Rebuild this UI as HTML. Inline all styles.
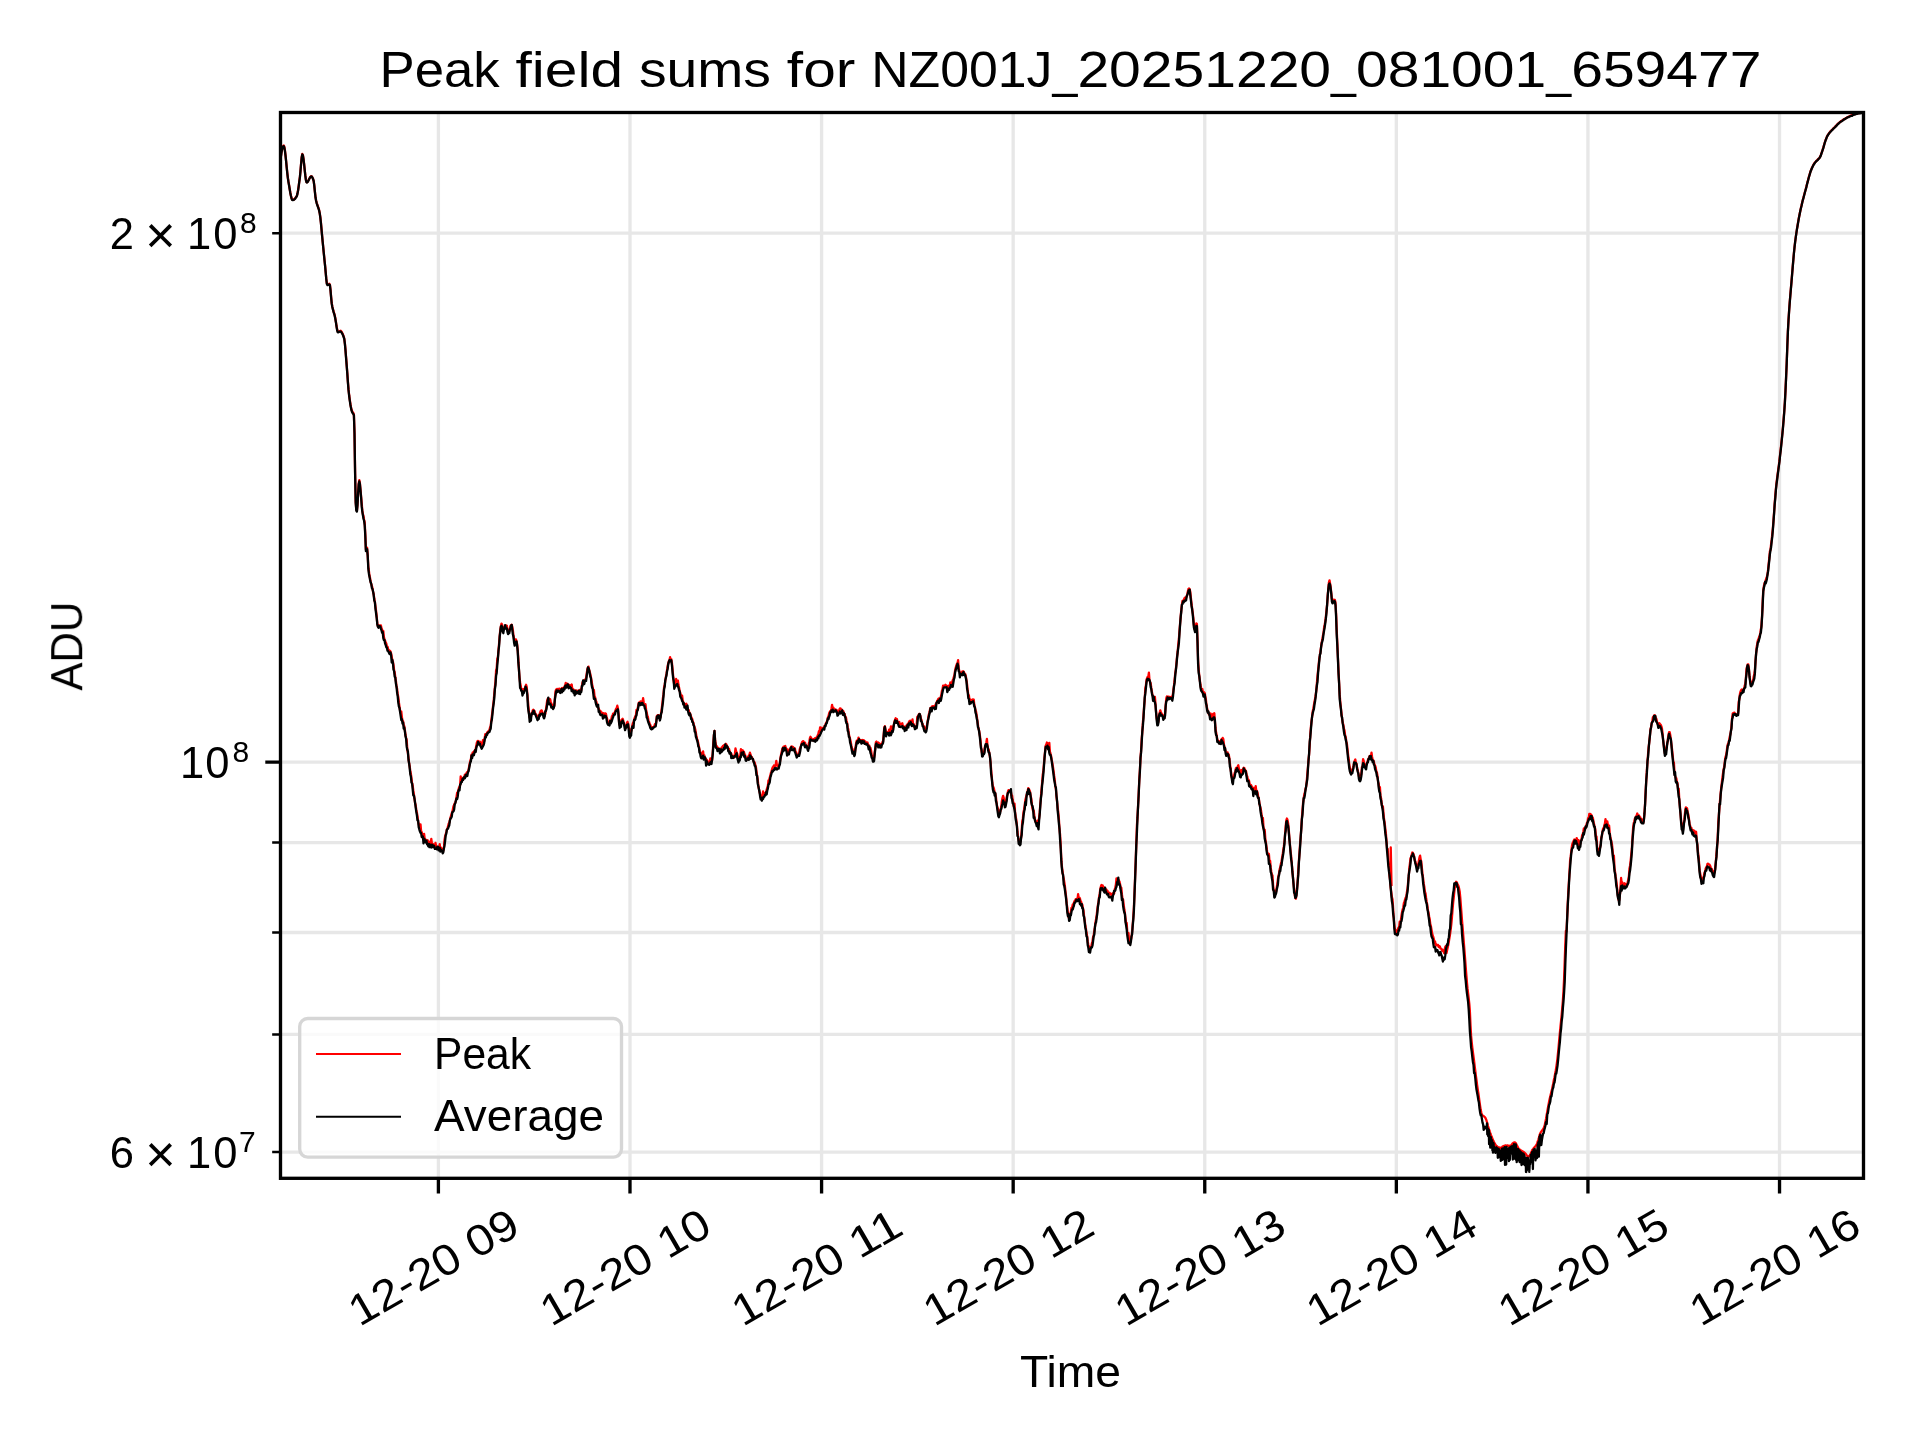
<!DOCTYPE html><html><head><meta charset="utf-8"><style>html,body{margin:0;padding:0;background:#fff;}svg{display:block;}text{font-family:"Liberation Sans",sans-serif;fill:#000;}#txt{will-change:transform;}</style></head><body>
<svg width="1920" height="1440" viewBox="0 0 1920 1440">
<rect x="0" y="0" width="1920" height="1440" fill="#fff"/>
<defs><clipPath id="ax"><rect x="280.5" y="112.5" width="1583.0" height="1065.8"/></clipPath></defs>
<path d="M438.40,112.5 V1178.3 M629.99,112.5 V1178.3 M821.58,112.5 V1178.3 M1013.17,112.5 V1178.3 M1204.76,112.5 V1178.3 M1396.35,112.5 V1178.3 M1587.94,112.5 V1178.3 M1779.53,112.5 V1178.3 M280.5,233.14 H1863.5 M280.5,762.20 H1863.5 M280.5,842.62 H1863.5 M280.5,932.52 H1863.5 M280.5,1034.44 H1863.5 M280.5,1152.10 H1863.5" stroke="#e7e7e7" stroke-width="3.33" fill="none"/>
<g clip-path="url(#ax)" fill="none" stroke-linejoin="round" stroke-width="2.3">
<path d="M280.7 158.0L281.3 153.3L281.9 149.9L282.5 147.6L283.1 146.1L283.7 145.4L284.3 146.6L284.9 150.2L285.5 155.2L286.1 161.0L286.7 167.2L287.3 173.0L287.9 178.0L288.5 181.8L289.1 185.1L289.7 189.1L290.3 192.5L290.9 195.6L291.5 198.0L292.1 199.5L292.7 199.8L293.3 199.6L293.9 199.5L294.5 199.0L295.1 198.3L295.7 197.6L296.3 196.7L296.9 195.6L297.5 193.4L298.1 190.0L298.7 185.9L299.3 181.4L299.9 176.9L300.5 170.8L301.1 163.6L301.7 157.3L302.3 154.0L302.9 155.1L303.5 158.8L304.1 163.8L304.7 169.6L305.3 175.3L305.9 179.7L306.5 182.1L307.1 182.2L307.7 181.6L308.3 180.5L308.9 179.4L309.5 178.3L310.1 177.1L310.7 176.5L311.3 176.1L311.9 176.6L312.5 177.6L313.1 179.0L313.7 181.0L314.3 185.5L314.9 191.6L315.5 197.2L316.1 200.5L316.7 202.8L317.3 204.7L317.9 206.2L318.5 208.0L319.1 210.1L319.7 212.9L320.3 217.0L320.9 222.2L321.5 228.9L322.1 235.6L322.7 242.0L323.3 247.9L323.9 253.9L324.5 259.9L325.1 265.7L325.7 272.3L326.3 278.9L326.9 283.5L327.5 284.5L328.1 284.3L328.7 284.1L329.3 283.8L329.9 284.6L330.5 289.6L331.1 296.7L331.7 303.0L332.3 306.5L332.9 309.0L333.5 311.1L334.1 313.1L334.7 315.2L335.3 318.1L335.9 321.7L336.5 325.8L337.1 329.1L337.7 331.4L338.3 331.7L338.9 331.6L339.5 331.3L340.1 331.0L340.7 330.7L341.3 331.5L341.9 332.3L342.5 333.5L343.1 334.8L343.7 336.6L344.3 338.8L344.9 343.3L345.5 349.9L346.1 357.5L346.7 365.1L347.3 373.0L347.9 381.5L348.5 389.1L349.1 394.5L349.7 399.2L350.3 403.2L350.9 406.8L351.5 409.4L352.1 411.2L352.7 412.1L353.3 413.0L353.9 414.5L354.5 432.6L355.1 471.8L355.7 501.6L356.3 509.4L356.9 510.8L357.5 504.2L358.1 492.9L358.7 483.4L359.3 480.2L359.9 483.0L360.5 489.5L361.1 496.6L361.7 503.0L362.3 510.2L362.9 514.2L363.5 516.1L364.1 519.7L364.7 522.3L365.3 534.1L365.9 549.6L366.5 548.1L367.1 547.8L367.7 555.0L368.3 566.3L368.9 571.0L369.5 575.8L370.1 578.1L370.7 582.0L371.3 584.0L371.9 586.1L372.5 588.4L373.1 592.0L373.7 594.1L374.3 598.8L374.9 602.1L375.5 606.8L376.1 611.1L376.7 616.6L377.3 623.2L377.9 626.3L378.5 625.2L379.1 625.7L379.7 626.3L380.3 625.4L380.9 625.5L381.5 628.2L382.1 629.4L382.7 632.3L383.3 631.1L383.9 637.0L384.5 639.4L385.1 640.7L385.7 642.2L386.3 643.4L386.9 646.6L387.5 646.6L388.1 648.9L388.7 650.2L389.3 651.2L389.9 650.7L390.5 651.7L391.1 653.3L391.7 656.7L392.3 660.0L392.9 661.4L393.5 664.9L394.1 670.2L394.7 672.4L395.3 677.3L395.9 681.0L396.5 685.9L397.1 688.8L397.7 693.9L398.3 697.1L398.9 702.5L399.5 706.7L400.1 710.7L400.7 712.7L401.3 711.6L401.9 717.3L402.5 721.0L403.1 721.3L403.7 724.9L404.3 726.2L404.9 730.1L405.5 735.1L406.1 737.8L406.7 740.1L407.3 749.3L407.9 753.2L408.5 757.9L409.1 763.3L409.7 765.9L410.3 771.3L410.9 773.8L411.5 778.3L412.1 783.3L412.7 785.6L413.3 790.4L413.9 794.4L414.5 798.6L415.1 803.0L415.7 805.3L416.3 809.9L416.9 812.6L417.5 816.1L418.1 821.2L418.7 824.1L419.3 826.6L419.9 827.6L420.5 824.3L421.1 831.0L421.7 832.0L422.3 835.3L422.9 835.9L423.5 836.2L424.1 833.8L424.7 839.0L425.3 839.2L425.9 840.0L426.5 841.2L427.1 842.0L427.7 840.3L428.3 842.2L428.9 843.1L429.5 841.8L430.1 844.0L430.7 843.8L431.3 838.8L431.9 843.5L432.5 844.0L433.1 844.2L433.7 845.9L434.3 845.9L434.9 846.7L435.5 842.9L436.1 846.2L436.7 846.5L437.3 847.1L437.9 847.1L438.5 847.9L439.1 848.0L439.7 844.1L440.3 849.1L440.9 847.5L441.5 848.3L442.1 851.1L442.7 850.3L443.3 850.8L443.9 848.0L444.5 840.2L445.1 836.3L445.7 834.2L446.3 832.0L446.9 829.4L447.5 828.2L448.1 826.0L448.7 823.6L449.3 822.7L449.9 820.0L450.5 817.6L451.1 815.7L451.7 813.2L452.3 812.1L452.9 809.2L453.5 806.3L454.1 805.1L454.7 803.3L455.3 802.8L455.9 800.3L456.5 797.1L457.1 792.9L457.7 792.3L458.3 790.7L458.9 788.0L459.5 786.7L460.1 785.4L460.7 776.4L461.3 780.2L461.9 779.2L462.5 779.7L463.1 778.0L463.7 778.4L464.3 777.0L464.9 774.6L465.5 774.8L466.1 774.2L466.7 772.8L467.3 772.0L467.9 771.7L468.5 770.2L469.1 766.6L469.7 763.7L470.3 760.6L470.9 759.1L471.5 754.6L472.1 755.4L472.7 752.5L473.3 752.2L473.9 751.9L474.5 751.0L475.1 750.1L475.7 749.0L476.3 745.8L476.9 742.5L477.5 741.1L478.1 740.9L478.7 741.8L479.3 742.3L479.9 741.6L480.5 742.3L481.1 744.8L481.7 745.3L482.3 745.3L482.9 740.1L483.5 743.1L484.1 741.3L484.7 738.1L485.3 734.1L485.9 734.2L486.5 734.7L487.1 732.5L487.7 733.0L488.3 731.2L488.9 730.9L489.5 729.7L490.1 727.2L490.7 726.1L491.3 720.4L491.9 716.0L492.5 711.2L493.1 705.6L493.7 700.8L494.3 693.5L494.9 687.2L495.5 681.6L496.1 670.3L496.7 668.5L497.3 658.6L497.9 657.2L498.5 650.0L499.1 643.3L499.7 636.0L500.3 629.7L500.9 626.2L501.5 623.6L502.1 624.6L502.7 628.5L503.3 629.7L503.9 628.2L504.5 627.5L505.1 626.0L505.7 625.6L506.3 625.5L506.9 625.8L507.5 630.2L508.1 631.3L508.7 632.3L509.3 631.0L509.9 628.3L510.5 625.8L511.1 625.1L511.7 624.7L512.3 626.9L512.9 630.4L513.5 635.8L514.1 639.2L514.7 641.9L515.3 641.3L515.9 639.4L516.5 641.0L517.1 643.9L517.7 649.9L518.3 658.2L518.9 669.0L519.5 677.3L520.1 682.4L520.7 685.8L521.3 689.1L521.9 690.0L522.5 690.9L523.1 689.2L523.7 692.3L524.3 690.5L524.9 688.0L525.5 686.5L526.1 684.8L526.7 686.9L527.3 693.7L527.9 700.5L528.5 707.3L529.1 714.0L529.7 717.6L530.3 717.7L530.9 717.0L531.5 714.9L532.1 712.5L532.7 710.5L533.3 709.6L533.9 710.6L534.5 711.0L535.1 713.2L535.7 714.0L536.3 716.3L536.9 715.4L537.5 717.7L538.1 716.6L538.7 715.6L539.3 715.1L539.9 713.2L540.5 711.3L541.1 710.6L541.7 710.4L542.3 711.9L542.9 713.3L543.5 714.5L544.1 713.9L544.7 715.6L545.3 713.6L545.9 709.8L546.5 705.8L547.1 700.9L547.7 698.8L548.3 698.2L548.9 698.9L549.5 699.1L550.1 699.1L550.7 701.5L551.3 703.6L551.9 704.4L552.5 706.1L553.1 706.3L553.7 707.5L554.3 705.7L554.9 698.4L555.5 691.4L556.1 689.7L556.7 689.2L557.3 688.9L557.9 690.2L558.5 689.9L559.1 688.6L559.7 690.2L560.3 689.5L560.9 689.6L561.5 688.4L562.1 688.0L562.7 688.4L563.3 688.6L563.9 688.3L564.5 686.3L565.1 685.8L565.7 682.9L566.3 685.3L566.9 684.6L567.5 683.7L568.1 685.4L568.7 684.7L569.3 685.2L569.9 685.1L570.5 686.5L571.1 686.7L571.7 684.5L572.3 689.2L572.9 688.9L573.5 689.6L574.1 690.3L574.7 691.0L575.3 690.9L575.9 690.8L576.5 690.5L577.1 691.3L577.7 691.0L578.3 690.9L578.9 691.3L579.5 690.3L580.1 689.7L580.7 690.2L581.3 690.1L581.9 686.1L582.5 682.4L583.1 681.0L583.7 681.1L584.3 680.1L584.9 679.6L585.5 679.6L586.1 677.8L586.7 673.7L587.3 669.3L587.9 667.9L588.5 666.6L589.1 669.8L589.7 671.6L590.3 674.0L590.9 677.0L591.5 680.1L592.1 684.2L592.7 686.9L593.3 690.9L593.9 690.0L594.5 696.1L595.1 697.3L595.7 700.5L596.3 701.6L596.9 704.3L597.5 706.3L598.1 707.5L598.7 708.7L599.3 710.1L599.9 710.9L600.5 711.0L601.1 712.0L601.7 712.4L602.3 714.5L602.9 713.7L603.5 713.1L604.1 713.8L604.7 714.0L605.3 713.4L605.9 713.7L606.5 716.5L607.1 718.6L607.7 722.2L608.3 722.5L608.9 722.7L609.5 721.8L610.1 720.7L610.7 719.6L611.3 719.7L611.9 716.4L612.5 716.1L613.1 713.6L613.7 714.7L614.3 713.1L614.9 711.9L615.5 710.3L616.1 708.7L616.7 708.1L617.3 705.7L617.9 708.3L618.5 713.1L619.1 722.4L619.7 725.1L620.3 725.0L620.9 722.9L621.5 720.0L622.1 719.5L622.7 718.8L623.3 720.6L623.9 723.7L624.5 725.5L625.1 726.0L625.7 727.8L626.3 726.3L626.9 722.8L627.5 721.8L628.1 723.6L628.7 727.8L629.3 728.8L629.9 734.8L630.5 734.3L631.1 731.0L631.7 729.3L632.3 725.6L632.9 723.1L633.5 722.2L634.1 719.7L634.7 717.9L635.3 716.3L635.9 715.5L636.5 709.9L637.1 710.8L637.7 708.4L638.3 704.9L638.9 702.5L639.5 702.3L640.1 701.9L640.7 701.3L641.3 701.5L641.9 703.5L642.5 702.4L643.1 698.2L643.7 702.2L644.3 704.7L644.9 704.5L645.5 704.3L646.1 709.7L646.7 712.4L647.3 715.8L647.9 716.9L648.5 721.2L649.1 721.8L649.7 724.0L650.3 724.9L650.9 726.8L651.5 727.1L652.1 727.3L652.7 727.6L653.3 727.2L653.9 726.6L654.5 725.5L655.1 724.0L655.7 725.0L656.3 721.3L656.9 715.8L657.5 715.3L658.1 715.1L658.7 715.2L659.3 716.2L659.9 715.8L660.5 717.2L661.1 713.6L661.7 708.9L662.3 704.1L662.9 698.2L663.5 694.2L664.1 687.1L664.7 684.7L665.3 680.7L665.9 676.7L666.5 673.7L667.1 669.6L667.7 665.8L668.3 663.4L668.9 661.0L669.5 660.1L670.1 657.2L670.7 660.0L671.3 659.2L671.9 662.6L672.5 668.5L673.1 675.4L673.7 681.3L674.3 684.7L674.9 684.5L675.5 684.5L676.1 679.0L676.7 681.3L677.3 680.5L677.9 680.7L678.5 685.1L679.1 687.8L679.7 691.1L680.3 692.8L680.9 696.1L681.5 698.4L682.1 695.7L682.7 700.4L683.3 702.0L683.9 703.2L684.5 703.8L685.1 705.0L685.7 704.4L686.3 703.6L686.9 707.3L687.5 707.8L688.1 709.9L688.7 710.1L689.3 712.7L689.9 713.2L690.5 714.4L691.1 716.9L691.7 717.9L692.3 719.3L692.9 721.7L693.5 723.0L694.1 725.9L694.7 727.4L695.3 729.5L695.9 733.0L696.5 736.6L697.1 739.3L697.7 740.4L698.3 743.4L698.9 746.6L699.5 749.3L700.1 752.1L700.7 752.5L701.3 754.4L701.9 754.7L702.5 755.1L703.1 751.4L703.7 756.7L704.3 755.3L704.9 757.7L705.5 758.3L706.1 759.4L706.7 759.7L707.3 760.6L707.9 763.2L708.5 762.5L709.1 762.2L709.7 762.5L710.3 758.4L710.9 761.6L711.5 759.4L712.1 760.1L712.7 753.0L713.3 742.9L713.9 735.3L714.5 730.8L715.1 739.7L715.7 743.6L716.3 746.7L716.9 746.2L717.5 748.3L718.1 747.6L718.7 749.0L719.3 748.7L719.9 749.7L720.5 749.0L721.1 748.7L721.7 747.5L722.3 747.1L722.9 746.0L723.5 747.1L724.1 745.1L724.7 745.8L725.3 744.6L725.9 743.8L726.5 744.7L727.1 746.2L727.7 746.9L728.3 748.9L728.9 748.6L729.5 750.6L730.1 752.6L730.7 753.9L731.3 753.6L731.9 756.0L732.5 756.4L733.1 756.0L733.7 757.8L734.3 757.1L734.9 753.9L735.5 748.5L736.1 751.3L736.7 752.6L737.3 754.0L737.9 756.6L738.5 757.9L739.1 757.7L739.7 756.8L740.3 755.7L740.9 749.2L741.5 753.2L742.1 751.7L742.7 750.2L743.3 751.3L743.9 751.9L744.5 754.0L745.1 754.9L745.7 757.9L746.3 757.8L746.9 759.7L747.5 758.1L748.1 757.1L748.7 755.6L749.3 755.3L749.9 752.7L750.5 754.3L751.1 756.6L751.7 757.0L752.3 758.5L752.9 758.9L753.5 761.2L754.1 762.4L754.7 762.5L755.3 765.2L755.9 766.9L756.5 771.4L757.1 776.0L757.7 779.3L758.3 785.2L758.9 788.8L759.5 791.6L760.1 794.0L760.7 796.9L761.3 797.3L761.9 797.8L762.5 795.4L763.1 791.5L763.7 794.4L764.3 794.0L764.9 793.2L765.5 792.9L766.1 792.1L766.7 789.5L767.3 787.6L767.9 785.7L768.5 780.3L769.1 780.2L769.7 777.9L770.3 775.5L770.9 772.9L771.5 771.3L772.1 769.1L772.7 767.3L773.3 767.0L773.9 765.4L774.5 767.5L775.1 766.0L775.7 765.1L776.3 760.9L776.9 765.5L777.5 765.9L778.1 766.2L778.7 765.7L779.3 764.6L779.9 762.3L780.5 757.7L781.1 754.5L781.7 751.7L782.3 748.9L782.9 747.9L783.5 746.7L784.1 747.8L784.7 746.3L785.3 746.0L785.9 748.5L786.5 748.7L787.1 749.7L787.7 752.9L788.3 754.1L788.9 752.5L789.5 749.1L790.1 749.0L790.7 747.5L791.3 746.5L791.9 746.6L792.5 746.7L793.1 747.0L793.7 748.2L794.3 748.1L794.9 748.5L795.5 751.7L796.1 752.2L796.7 754.0L797.3 754.7L797.9 754.6L798.5 755.1L799.1 753.7L799.7 749.3L800.3 748.0L800.9 746.0L801.5 743.6L802.1 742.1L802.7 741.4L803.3 741.2L803.9 742.0L804.5 742.7L805.1 742.7L805.7 745.2L806.3 745.7L806.9 746.8L807.5 747.2L808.1 748.0L808.7 744.1L809.3 741.8L809.9 738.3L810.5 736.8L811.1 737.8L811.7 739.0L812.3 740.2L812.9 740.4L813.5 739.1L814.1 740.2L814.7 738.6L815.3 737.9L815.9 738.6L816.5 737.8L817.1 737.2L817.7 735.4L818.3 734.3L818.9 731.2L819.5 732.4L820.1 727.4L820.7 727.3L821.3 730.9L821.9 729.5L822.5 728.3L823.1 727.9L823.7 727.6L824.3 726.6L824.9 725.5L825.5 724.5L826.1 722.8L826.7 722.4L827.3 720.0L827.9 717.3L828.5 716.3L829.1 713.5L829.7 712.0L830.3 711.0L830.9 710.7L831.5 708.5L832.1 704.8L832.7 709.6L833.3 707.5L833.9 709.1L834.5 709.1L835.1 709.5L835.7 709.5L836.3 711.2L836.9 710.3L837.5 712.0L838.1 713.5L838.7 713.3L839.3 709.9L839.9 708.3L840.5 708.3L841.1 709.5L841.7 709.4L842.3 710.6L842.9 711.3L843.5 711.4L844.1 714.0L844.7 713.9L845.3 716.9L845.9 717.2L846.5 720.4L847.1 723.0L847.7 727.2L848.3 729.4L848.9 734.3L849.5 736.9L850.1 739.0L850.7 741.8L851.3 745.3L851.9 748.2L852.5 749.0L853.1 751.0L853.7 752.7L854.3 754.4L854.9 752.8L855.5 747.5L856.1 743.4L856.7 740.7L857.3 741.8L857.9 740.9L858.5 737.7L859.1 739.7L859.7 741.1L860.3 740.6L860.9 739.9L861.5 740.3L862.1 741.1L862.7 740.0L863.3 741.7L863.9 740.2L864.5 742.4L865.1 741.3L865.7 741.9L866.3 743.4L866.9 742.7L867.5 742.5L868.1 745.0L868.7 745.5L869.3 745.7L869.9 748.9L870.5 748.0L871.1 750.6L871.7 755.0L872.3 757.2L872.9 759.0L873.5 760.2L874.1 757.3L874.7 752.2L875.3 747.8L875.9 742.2L876.5 741.5L877.1 743.6L877.7 743.1L878.3 742.5L878.9 743.1L879.5 745.1L880.1 743.9L880.7 744.7L881.3 745.0L881.9 744.4L882.5 741.9L883.1 741.6L883.7 734.4L884.3 727.2L884.9 726.3L885.5 729.4L886.1 733.7L886.7 732.9L887.3 732.1L887.9 732.9L888.5 733.0L889.1 729.7L889.7 731.3L890.3 731.1L890.9 726.5L891.5 731.6L892.1 727.0L892.7 728.7L893.3 726.7L893.9 724.8L894.5 721.5L895.1 719.7L895.7 718.3L896.3 720.5L896.9 719.1L897.5 721.8L898.1 722.4L898.7 723.0L899.3 722.0L899.9 724.1L900.5 724.0L901.1 724.6L901.7 724.6L902.3 723.2L902.9 726.8L903.5 726.0L904.1 727.8L904.7 728.4L905.3 727.0L905.9 726.7L906.5 725.4L907.1 726.2L907.7 723.8L908.3 723.8L908.9 722.0L909.5 721.0L910.1 720.7L910.7 720.8L911.3 722.4L911.9 721.9L912.5 719.4L913.1 724.6L913.7 724.1L914.3 726.9L914.9 726.2L915.5 726.8L916.1 727.6L916.7 725.0L917.3 716.8L917.9 716.6L918.5 715.3L919.1 714.0L919.7 714.1L920.3 715.7L920.9 718.8L921.5 719.9L922.1 723.9L922.7 723.9L923.3 726.5L923.9 726.1L924.5 728.4L925.1 728.5L925.7 729.9L926.3 728.4L926.9 725.8L927.5 721.8L928.1 718.9L928.7 715.0L929.3 712.7L929.9 710.0L930.5 707.8L931.1 707.8L931.7 707.1L932.3 706.2L932.9 706.8L933.5 706.2L934.1 706.2L934.7 705.9L935.3 705.9L935.9 703.9L936.5 703.6L937.1 701.0L937.7 700.5L938.3 698.9L938.9 698.4L939.5 699.1L940.1 698.5L940.7 696.9L941.3 695.1L941.9 691.0L942.5 689.5L943.1 685.7L943.7 685.6L944.3 686.1L944.9 685.6L945.5 684.8L946.1 686.4L946.7 685.7L947.3 686.2L947.9 687.6L948.5 687.2L949.1 685.5L949.7 686.6L950.3 682.5L950.9 683.9L951.5 684.3L952.1 682.5L952.7 680.2L953.3 678.9L953.9 676.8L954.5 674.8L955.1 670.4L955.7 667.7L956.3 665.6L956.9 663.8L957.5 663.2L958.1 660.1L958.7 668.8L959.3 670.7L959.9 673.3L960.5 672.8L961.1 674.0L961.7 673.0L962.3 671.3L962.9 671.3L963.5 671.4L964.1 672.3L964.7 674.3L965.3 674.1L965.9 676.6L966.5 680.1L967.1 684.7L967.7 691.0L968.3 694.8L968.9 695.4L969.5 700.0L970.1 699.3L970.7 701.5L971.3 701.4L971.9 700.5L972.5 699.4L973.1 701.7L973.7 699.5L974.3 704.8L974.9 707.1L975.5 710.2L976.1 711.9L976.7 715.7L977.3 719.9L977.9 724.5L978.5 728.9L979.1 730.4L979.7 733.9L980.3 738.3L980.9 744.9L981.5 750.6L982.1 753.5L982.7 755.3L983.3 753.5L983.9 753.3L984.5 749.3L985.1 746.5L985.7 744.9L986.3 742.7L986.9 738.9L987.5 745.9L988.1 748.4L988.7 749.6L989.3 753.2L989.9 756.4L990.5 761.8L991.1 768.9L991.7 776.2L992.3 782.8L992.9 786.6L993.5 787.3L994.1 789.4L994.7 793.0L995.3 793.4L995.9 796.7L996.5 802.2L997.1 806.2L997.7 808.0L998.3 812.5L998.9 814.3L999.5 814.0L1000.1 812.0L1000.7 809.6L1001.3 806.3L1001.9 800.9L1002.5 798.1L1003.1 795.8L1003.7 797.8L1004.3 802.4L1004.9 803.3L1005.5 803.5L1006.1 801.3L1006.7 797.3L1007.3 795.0L1007.9 791.9L1008.5 790.1L1009.1 790.8L1009.7 790.4L1010.3 790.7L1010.9 791.7L1011.5 795.5L1012.1 795.7L1012.7 800.1L1013.3 802.8L1013.9 806.7L1014.5 803.6L1015.1 812.5L1015.7 816.6L1016.3 819.7L1016.9 825.4L1017.5 832.0L1018.1 837.2L1018.7 839.8L1019.3 843.5L1019.9 842.8L1020.5 840.4L1021.1 837.9L1021.7 831.1L1022.3 821.2L1022.9 818.4L1023.5 812.0L1024.1 809.5L1024.7 805.3L1025.3 800.3L1025.9 797.8L1026.5 795.3L1027.1 793.4L1027.7 790.8L1028.3 788.1L1028.9 788.9L1029.5 790.4L1030.1 791.9L1030.7 796.4L1031.3 798.6L1031.9 804.7L1032.5 808.7L1033.1 810.9L1033.7 810.5L1034.3 815.6L1034.9 819.0L1035.5 821.3L1036.1 822.7L1036.7 822.7L1037.3 824.5L1037.9 820.5L1038.5 822.5L1039.1 817.9L1039.7 812.7L1040.3 804.3L1040.9 797.4L1041.5 789.5L1042.1 783.3L1042.7 775.0L1043.3 771.5L1043.9 764.4L1044.5 757.4L1045.1 751.1L1045.7 745.6L1046.3 744.6L1046.9 742.5L1047.5 743.9L1048.1 745.0L1048.7 746.3L1049.3 742.8L1049.9 751.7L1050.5 753.4L1051.1 755.9L1051.7 759.7L1052.3 762.9L1052.9 766.5L1053.5 770.5L1054.1 775.5L1054.7 779.4L1055.3 785.9L1055.9 789.2L1056.5 796.5L1057.1 802.1L1057.7 807.8L1058.3 812.5L1058.9 819.4L1059.5 828.8L1060.1 834.7L1060.7 844.9L1061.3 858.7L1061.9 866.5L1062.5 870.9L1063.1 876.0L1063.7 878.5L1064.3 882.2L1064.9 886.0L1065.5 891.7L1066.1 896.7L1066.7 903.7L1067.3 907.4L1067.9 913.2L1068.5 917.1L1069.1 918.3L1069.7 915.5L1070.3 913.6L1070.9 911.6L1071.5 907.8L1072.1 907.7L1072.7 904.7L1073.3 904.5L1073.9 903.0L1074.5 901.0L1075.1 900.8L1075.7 899.3L1076.3 900.2L1076.9 898.8L1077.5 899.6L1078.1 894.1L1078.7 898.0L1079.3 897.6L1079.9 898.2L1080.5 900.9L1081.1 901.7L1081.7 903.8L1082.3 904.7L1082.9 908.3L1083.5 910.3L1084.1 916.6L1084.7 919.9L1085.3 925.5L1085.9 928.6L1086.5 933.1L1087.1 935.9L1087.7 941.2L1088.3 944.8L1088.9 946.5L1089.5 949.1L1090.1 948.6L1090.7 948.2L1091.3 946.7L1091.9 943.3L1092.5 941.2L1093.1 936.9L1093.7 935.3L1094.3 931.0L1094.9 927.2L1095.5 922.1L1096.1 919.0L1096.7 915.1L1097.3 909.6L1097.9 905.2L1098.5 902.1L1099.1 897.0L1099.7 894.0L1100.3 889.0L1100.9 886.5L1101.5 885.0L1102.1 885.9L1102.7 885.5L1103.3 887.7L1103.9 887.2L1104.5 889.5L1105.1 888.2L1105.7 890.4L1106.3 889.5L1106.9 891.2L1107.5 890.7L1108.1 893.0L1108.7 893.6L1109.3 892.7L1109.9 893.2L1110.5 894.5L1111.1 893.8L1111.7 894.9L1112.3 894.7L1112.9 893.4L1113.5 893.1L1114.1 893.6L1114.7 889.5L1115.3 887.5L1115.9 884.6L1116.5 878.3L1117.1 882.0L1117.7 879.7L1118.3 879.7L1118.9 880.5L1119.5 881.5L1120.1 884.2L1120.7 888.0L1121.3 887.7L1121.9 894.2L1122.5 899.2L1123.1 899.6L1123.7 904.8L1124.3 909.3L1124.9 913.1L1125.5 918.5L1126.1 923.0L1126.7 923.0L1127.3 932.6L1127.9 935.0L1128.5 933.1L1129.1 941.7L1129.7 943.7L1130.3 941.1L1130.9 940.0L1131.5 936.8L1132.1 931.8L1132.7 924.5L1133.3 917.0L1133.9 907.3L1134.5 893.7L1135.1 876.8L1135.7 861.6L1136.3 843.3L1136.9 825.6L1137.5 817.2L1138.1 805.0L1138.7 793.0L1139.3 779.6L1139.9 770.0L1140.5 758.3L1141.1 750.0L1141.7 738.9L1142.3 732.1L1142.9 722.3L1143.5 715.7L1144.1 706.7L1144.7 700.3L1145.3 688.2L1145.9 685.5L1146.5 679.8L1147.1 678.0L1147.7 676.9L1148.3 676.7L1148.9 672.6L1149.5 680.3L1150.1 681.9L1150.7 683.3L1151.3 688.0L1151.9 691.7L1152.5 695.1L1153.1 696.4L1153.7 697.7L1154.3 700.1L1154.9 696.8L1155.5 704.0L1156.1 711.8L1156.7 718.4L1157.3 721.6L1157.9 722.9L1158.5 720.9L1159.1 715.7L1159.7 712.7L1160.3 710.3L1160.9 712.5L1161.5 713.2L1162.1 714.3L1162.7 715.3L1163.3 717.9L1163.9 716.9L1164.5 718.0L1165.1 712.6L1165.7 705.0L1166.3 698.4L1166.9 696.4L1167.5 697.2L1168.1 696.6L1168.7 696.6L1169.3 697.0L1169.9 697.0L1170.5 697.1L1171.1 697.7L1171.7 698.4L1172.3 696.4L1172.9 694.3L1173.5 689.0L1174.1 684.9L1174.7 678.7L1175.3 673.0L1175.9 669.1L1176.5 662.5L1177.1 656.1L1177.7 651.5L1178.3 644.2L1178.9 639.0L1179.5 631.1L1180.1 623.3L1180.7 616.6L1181.3 609.7L1181.9 605.0L1182.5 600.9L1183.1 600.7L1183.7 600.1L1184.3 598.6L1184.9 597.6L1185.5 598.3L1186.1 597.4L1186.7 596.4L1187.3 594.3L1187.9 591.3L1188.5 588.9L1189.1 588.4L1189.7 589.2L1190.3 592.1L1190.9 597.8L1191.5 603.4L1192.1 608.2L1192.7 612.6L1193.3 617.7L1193.9 625.1L1194.5 628.9L1195.1 629.9L1195.7 626.6L1196.3 623.5L1196.9 624.0L1197.5 640.2L1198.1 660.2L1198.7 670.0L1199.3 675.7L1199.9 680.6L1200.5 685.1L1201.1 687.9L1201.7 690.5L1202.3 689.0L1202.9 691.9L1203.5 691.9L1204.1 692.4L1204.7 693.0L1205.3 696.4L1205.9 699.5L1206.5 705.3L1207.1 708.3L1207.7 711.0L1208.3 712.3L1208.9 714.5L1209.5 713.7L1210.1 715.7L1210.7 713.5L1211.3 716.2L1211.9 717.9L1212.5 716.0L1213.1 713.9L1213.7 714.2L1214.3 713.2L1214.9 721.3L1215.5 728.0L1216.1 732.6L1216.7 735.6L1217.3 739.3L1217.9 740.7L1218.5 742.1L1219.1 741.3L1219.7 743.3L1220.3 741.2L1220.9 741.4L1221.5 739.3L1222.1 739.8L1222.7 737.9L1223.3 739.1L1223.9 744.2L1224.5 746.9L1225.1 749.1L1225.7 751.6L1226.3 753.1L1226.9 753.6L1227.5 752.4L1228.1 754.6L1228.7 754.5L1229.3 757.7L1229.9 762.8L1230.5 768.3L1231.1 772.1L1231.7 777.4L1232.3 778.7L1232.9 777.3L1233.5 777.5L1234.1 775.6L1234.7 772.9L1235.3 771.9L1235.9 768.2L1236.5 767.6L1237.1 767.6L1237.7 766.5L1238.3 765.3L1238.9 768.4L1239.5 770.6L1240.1 773.7L1240.7 774.3L1241.3 770.2L1241.9 771.8L1242.5 769.6L1243.1 769.2L1243.7 767.7L1244.3 768.0L1244.9 769.6L1245.5 770.6L1246.1 771.3L1246.7 775.6L1247.3 776.5L1247.9 780.2L1248.5 779.6L1249.1 781.0L1249.7 784.4L1250.3 785.3L1250.9 784.9L1251.5 786.0L1252.1 787.2L1252.7 787.6L1253.3 789.2L1253.9 788.0L1254.5 788.1L1255.1 790.1L1255.7 786.2L1256.3 791.3L1256.9 790.7L1257.5 792.5L1258.1 796.1L1258.7 797.6L1259.3 802.1L1259.9 805.8L1260.5 807.8L1261.1 811.0L1261.7 815.8L1262.3 818.3L1262.9 817.9L1263.5 827.5L1264.1 830.0L1264.7 829.7L1265.3 838.6L1265.9 842.4L1266.5 846.8L1267.1 851.5L1267.7 853.7L1268.3 855.6L1268.9 853.9L1269.5 861.8L1270.1 860.7L1270.7 867.4L1271.3 871.7L1271.9 875.0L1272.5 875.5L1273.1 885.3L1273.7 890.3L1274.3 892.5L1274.9 891.1L1275.5 893.3L1276.1 892.0L1276.7 888.0L1277.3 883.8L1277.9 879.3L1278.5 875.6L1279.1 873.2L1279.7 869.0L1280.3 867.1L1280.9 863.8L1281.5 861.7L1282.1 857.6L1282.7 854.8L1283.3 849.6L1283.9 846.2L1284.5 841.3L1285.1 834.5L1285.7 826.1L1286.3 820.4L1286.9 818.5L1287.5 819.9L1288.1 823.1L1288.7 828.9L1289.3 836.9L1289.9 844.0L1290.5 850.8L1291.1 855.6L1291.7 862.6L1292.3 868.8L1292.9 876.7L1293.5 883.6L1294.1 888.5L1294.7 894.2L1295.3 898.0L1295.9 898.7L1296.5 894.4L1297.1 887.9L1297.7 880.6L1298.3 870.1L1298.9 861.1L1299.5 853.0L1300.1 843.6L1300.7 837.0L1301.3 827.9L1301.9 818.1L1302.5 810.1L1303.1 802.5L1303.7 798.5L1304.3 794.3L1304.9 792.4L1305.5 788.9L1306.1 787.0L1306.7 781.8L1307.3 774.6L1307.9 767.5L1308.5 760.1L1309.1 754.3L1309.7 745.1L1310.3 734.6L1310.9 727.0L1311.5 721.2L1312.1 716.9L1312.7 711.5L1313.3 708.7L1313.9 705.1L1314.5 701.6L1315.1 698.8L1315.7 694.8L1316.3 690.7L1316.9 683.2L1317.5 676.2L1318.1 670.4L1318.7 664.3L1319.3 658.4L1319.9 655.2L1320.5 651.0L1321.1 647.0L1321.7 642.2L1322.3 639.8L1322.9 635.7L1323.5 633.1L1324.1 627.6L1324.7 624.7L1325.3 621.1L1325.9 616.6L1326.5 610.4L1327.1 604.8L1327.7 595.4L1328.3 588.9L1328.9 582.6L1329.5 580.3L1330.1 583.6L1330.7 587.3L1331.3 593.3L1331.9 598.6L1332.5 601.2L1333.1 600.7L1333.7 599.6L1334.3 599.8L1334.9 599.9L1335.5 602.5L1336.1 613.5L1336.7 629.9L1337.3 642.9L1337.9 657.3L1338.5 670.6L1339.1 682.8L1339.7 694.4L1340.3 702.1L1340.9 707.9L1341.5 713.4L1342.1 718.7L1342.7 722.7L1343.3 724.5L1343.9 728.6L1344.5 730.4L1345.1 735.2L1345.7 737.0L1346.3 741.5L1346.9 743.8L1347.5 749.2L1348.1 755.1L1348.7 758.9L1349.3 764.8L1349.9 768.0L1350.5 772.6L1351.1 770.4L1351.7 773.4L1352.3 769.9L1352.9 768.0L1353.5 765.8L1354.1 762.8L1354.7 760.7L1355.3 759.5L1355.9 762.9L1356.5 763.5L1357.1 767.8L1357.7 770.1L1358.3 772.9L1358.9 776.1L1359.5 777.2L1360.1 778.0L1360.7 776.3L1361.3 774.0L1361.9 767.1L1362.5 766.8L1363.1 759.2L1363.7 760.9L1364.3 764.3L1364.9 765.4L1365.5 767.0L1366.1 765.7L1366.7 763.7L1367.3 762.7L1367.9 759.9L1368.5 758.7L1369.1 757.4L1369.7 755.9L1370.3 756.3L1370.9 756.9L1371.5 752.7L1372.1 756.9L1372.7 760.0L1373.3 760.3L1373.9 761.8L1374.5 764.7L1375.1 765.5L1375.7 767.3L1376.3 771.1L1376.9 772.5L1377.5 776.0L1378.1 782.0L1378.7 783.7L1379.3 788.9L1379.9 787.2L1380.5 795.7L1381.1 798.2L1381.7 803.8L1382.3 807.4L1382.9 806.3L1383.5 813.4L1384.1 819.5L1384.7 823.0L1385.3 828.5L1385.9 833.7L1386.5 841.2L1387.1 848.9L1387.7 848.9L1388.3 860.6L1388.9 864.3L1389.5 875.7L1390.1 880.2L1390.7 887.9L1391.3 892.1L1391.9 897.1L1392.5 899.2L1393.1 908.0L1393.7 917.6L1394.3 924.3L1394.9 929.4L1395.5 933.7L1396.1 933.4L1396.7 930.8L1397.3 929.9L1397.9 929.4L1398.5 927.7L1399.1 927.6L1399.7 921.6L1400.3 923.6L1400.9 920.0L1401.5 915.7L1402.1 911.8L1402.7 909.3L1403.3 907.5L1403.9 903.0L1404.5 901.8L1405.1 899.4L1405.7 897.6L1406.3 897.0L1406.9 892.1L1407.5 889.0L1408.1 882.4L1408.7 876.7L1409.3 868.5L1409.9 863.6L1410.5 858.2L1411.1 857.1L1411.7 854.9L1412.3 852.5L1412.9 853.0L1413.5 854.0L1414.1 856.3L1414.7 859.6L1415.3 861.3L1415.9 863.6L1416.5 864.6L1417.1 867.2L1417.7 866.2L1418.3 865.5L1418.9 860.5L1419.5 857.4L1420.1 855.6L1420.7 859.7L1421.3 861.5L1421.9 868.0L1422.5 873.9L1423.1 878.1L1423.7 883.5L1424.3 886.6L1424.9 891.6L1425.5 893.3L1426.1 898.0L1426.7 901.9L1427.3 904.9L1427.9 910.3L1428.5 912.3L1429.1 916.4L1429.7 919.1L1430.3 924.2L1430.9 926.2L1431.5 929.8L1432.1 933.1L1432.7 935.6L1433.3 936.9L1433.9 939.4L1434.5 942.8L1435.1 941.6L1435.7 945.3L1436.3 944.2L1436.9 945.3L1437.5 945.1L1438.1 945.0L1438.7 947.0L1439.3 945.9L1439.9 946.6L1440.5 948.6L1441.1 948.7L1441.7 949.2L1442.3 950.9L1442.9 950.2L1443.5 951.2L1444.1 953.1L1444.7 949.3L1445.3 946.7L1445.9 946.0L1446.5 953.0L1447.1 950.3L1447.7 947.6L1448.3 944.7L1448.9 941.3L1449.5 937.6L1450.1 933.8L1450.7 929.3L1451.3 924.4L1451.9 918.0L1452.5 910.2L1453.1 903.1L1453.7 897.9L1454.3 891.9L1454.9 886.6L1455.5 883.2L1456.1 881.8L1456.7 882.2L1457.3 883.5L1457.9 884.7L1458.5 886.1L1459.1 888.5L1459.7 891.6L1460.3 897.8L1460.9 905.6L1461.5 913.7L1462.1 921.6L1462.7 928.5L1463.3 936.0L1463.9 943.7L1464.5 951.2L1465.1 958.8L1465.7 967.0L1466.3 974.5L1466.9 982.0L1467.5 988.4L1468.1 993.3L1468.7 998.3L1469.3 1003.9L1469.9 1011.7L1470.5 1025.6L1471.1 1035.9L1471.7 1042.0L1472.3 1047.5L1472.9 1052.2L1473.5 1056.7L1474.1 1061.2L1474.7 1066.5L1475.3 1071.0L1475.9 1075.8L1476.5 1080.2L1477.1 1084.9L1477.7 1089.1L1478.3 1093.0L1478.9 1097.2L1479.5 1101.7L1480.1 1105.9L1480.7 1109.8L1481.3 1112.6L1481.9 1114.6L1482.5 1115.4L1483.1 1115.8L1483.7 1116.2L1484.3 1116.7L1484.9 1117.1L1485.5 1118.1L1486.1 1119.4L1486.4 1120.1L1486.7 1121.4L1487.0 1122.1L1487.3 1123.1L1487.6 1124.3L1487.9 1125.8L1488.2 1126.6L1488.5 1127.5L1488.8 1128.9L1489.1 1129.8L1489.4 1130.2L1489.7 1131.4L1490.0 1132.1L1490.3 1133.1L1490.6 1133.8L1490.9 1134.9L1491.2 1135.9L1491.5 1136.3L1491.8 1137.0L1492.1 1137.8L1492.4 1138.9L1492.7 1139.1L1493.0 1140.2L1493.3 1140.5L1493.6 1141.2L1493.9 1141.9L1494.2 1142.7L1494.5 1142.9L1494.8 1143.5L1495.1 1144.1L1495.4 1144.7L1495.7 1144.9L1496.0 1145.8L1496.3 1146.2L1496.6 1145.9L1496.9 1146.6L1497.2 1146.7L1497.5 1147.1L1497.8 1147.0L1498.1 1147.5L1498.4 1147.3L1498.7 1147.3L1499.0 1147.6L1499.3 1147.9L1499.6 1147.6L1499.9 1147.7L1500.2 1147.9L1500.5 1147.8L1500.8 1147.8L1501.1 1147.7L1501.4 1147.8L1501.7 1147.5L1502.0 1147.6L1502.3 1146.8L1502.6 1147.0L1502.9 1146.9L1503.2 1146.3L1503.5 1146.5L1503.8 1145.9L1504.1 1145.9L1504.4 1145.9L1504.7 1145.8L1505.0 1145.5L1505.3 1145.4L1505.6 1145.5L1505.9 1145.4L1506.2 1145.8L1506.5 1145.9L1506.8 1145.7L1507.1 1145.4L1507.4 1145.7L1507.7 1145.5L1508.0 1145.6L1508.3 1146.1L1508.6 1146.1L1508.9 1145.6L1509.2 1146.1L1509.5 1145.7L1509.8 1146.3L1510.1 1146.1L1510.4 1146.2L1510.7 1145.7L1511.0 1145.6L1511.3 1145.4L1511.6 1144.9L1511.9 1144.3L1512.2 1144.5L1512.5 1143.7L1512.8 1143.1L1513.1 1143.2L1513.4 1142.9L1513.7 1142.6L1514.0 1142.3L1514.3 1142.4L1514.6 1142.3L1514.9 1142.3L1515.2 1142.6L1515.5 1143.0L1515.8 1143.1L1516.1 1143.9L1516.4 1144.1L1516.7 1145.0L1517.0 1145.5L1517.3 1146.1L1517.6 1147.1L1517.9 1147.1L1518.2 1148.2L1518.5 1148.5L1518.8 1148.6L1519.1 1149.3L1519.4 1149.1L1519.7 1149.8L1520.0 1149.7L1520.3 1150.1L1520.6 1150.2L1520.9 1150.7L1521.2 1150.6L1521.5 1150.8L1521.8 1151.2L1522.1 1151.0L1522.4 1151.3L1522.7 1151.4L1523.0 1151.7L1523.3 1152.2L1523.6 1151.9L1523.9 1152.4L1524.2 1152.5L1524.5 1152.7L1524.8 1152.9L1525.1 1153.4L1525.4 1153.6L1525.7 1153.8L1526.0 1154.4L1526.3 1154.5L1526.6 1155.1L1526.9 1155.6L1527.2 1156.0L1527.5 1155.8L1527.8 1156.2L1528.1 1156.4L1528.4 1156.8L1528.7 1156.6L1529.0 1156.6L1529.3 1156.0L1529.6 1155.7L1529.9 1155.2L1530.2 1154.9L1530.5 1154.1L1530.8 1153.6L1531.1 1152.6L1531.4 1152.3L1531.7 1151.5L1532.0 1150.7L1532.3 1149.9L1532.6 1149.6L1532.9 1149.4L1533.2 1148.8L1533.5 1148.8L1533.8 1147.9L1534.1 1147.9L1534.4 1147.4L1534.7 1147.1L1535.0 1146.6L1535.3 1146.6L1535.6 1146.0L1535.9 1145.4L1536.2 1145.3L1536.5 1144.9L1536.8 1144.1L1537.1 1143.8L1537.4 1142.7L1537.7 1141.7L1538.0 1140.6L1538.3 1139.8L1538.6 1138.8L1538.9 1137.8L1539.2 1136.9L1539.5 1135.5L1539.8 1134.7L1540.1 1133.6L1540.4 1133.5L1540.7 1132.4L1541.3 1131.6L1541.9 1130.8L1542.5 1130.0L1543.1 1129.1L1543.7 1128.3L1544.3 1126.7L1544.9 1124.2L1545.5 1121.4L1546.1 1118.5L1546.7 1114.8L1547.3 1111.5L1547.9 1108.0L1548.5 1104.9L1549.1 1101.5L1549.7 1098.7L1550.3 1096.2L1550.9 1093.8L1551.5 1091.3L1552.1 1089.0L1552.7 1085.9L1553.3 1083.2L1553.9 1079.8L1554.5 1077.2L1555.1 1074.0L1555.7 1070.8L1556.3 1067.1L1556.9 1062.9L1557.5 1058.1L1558.1 1052.2L1558.7 1045.9L1559.3 1038.9L1559.9 1032.5L1560.5 1026.4L1561.1 1020.6L1561.7 1014.7L1562.3 1007.5L1562.9 1000.3L1563.5 991.2L1564.1 978.8L1564.7 962.1L1565.3 945.0L1565.9 930.9L1566.5 931.7L1567.1 918.7L1567.7 904.6L1568.3 892.4L1568.9 881.9L1569.5 872.5L1570.1 860.6L1570.7 856.7L1571.3 851.2L1571.9 846.3L1572.5 843.4L1573.1 842.5L1573.7 840.7L1574.3 839.5L1574.9 840.6L1575.5 839.7L1576.1 840.6L1576.7 838.1L1577.3 839.8L1577.9 845.2L1578.5 840.1L1579.1 846.2L1579.7 844.5L1580.3 843.9L1580.9 840.5L1581.5 839.7L1582.1 835.4L1582.7 834.4L1583.3 831.7L1583.9 828.3L1584.5 830.0L1585.1 828.9L1585.7 826.4L1586.3 825.4L1586.9 822.9L1587.5 822.5L1588.1 818.2L1588.7 818.1L1589.3 813.8L1589.9 813.9L1590.5 814.2L1591.1 814.7L1591.7 815.4L1592.3 817.2L1592.9 818.0L1593.5 822.2L1594.1 824.1L1594.7 827.2L1595.3 829.2L1595.9 836.7L1596.5 836.5L1597.1 846.8L1597.7 849.5L1598.3 852.4L1598.9 851.2L1599.5 850.2L1600.1 847.2L1600.7 843.4L1601.3 837.5L1601.9 836.0L1602.5 831.7L1603.1 828.4L1603.7 829.1L1604.3 825.1L1604.9 823.7L1605.5 819.2L1606.1 822.9L1606.7 822.0L1607.3 821.4L1607.9 825.2L1608.5 827.7L1609.1 825.6L1609.7 832.7L1610.3 836.7L1610.9 839.6L1611.5 842.0L1612.1 845.3L1612.7 851.4L1613.3 857.5L1613.9 855.7L1614.5 868.1L1615.1 872.1L1615.7 877.0L1616.3 880.9L1616.9 886.0L1617.5 892.5L1618.1 897.4L1618.7 900.3L1619.3 900.2L1619.9 895.4L1620.5 887.1L1621.1 878.0L1621.7 883.6L1622.3 882.4L1622.9 883.6L1623.5 884.7L1624.1 885.4L1624.7 883.3L1625.3 884.3L1625.9 885.4L1626.5 884.3L1627.1 886.0L1627.7 882.2L1628.3 879.4L1628.9 876.3L1629.5 868.4L1630.1 865.5L1630.7 860.3L1631.3 854.0L1631.9 848.2L1632.5 837.6L1633.1 828.1L1633.7 823.4L1634.3 821.3L1634.9 818.6L1635.5 817.6L1636.1 816.4L1636.7 815.2L1637.3 813.5L1637.9 816.0L1638.5 816.7L1639.1 815.5L1639.7 817.8L1640.3 817.2L1640.9 820.5L1641.5 819.0L1642.1 820.6L1642.7 821.3L1643.3 822.7L1643.9 819.1L1644.5 812.7L1645.1 803.4L1645.7 790.3L1646.3 779.8L1646.9 769.6L1647.5 761.6L1648.1 753.5L1648.7 746.6L1649.3 742.1L1649.9 735.9L1650.5 729.2L1651.1 727.2L1651.7 722.9L1652.3 721.6L1652.9 717.2L1653.5 716.6L1654.1 715.5L1654.7 715.1L1655.3 716.4L1655.9 717.9L1656.5 719.3L1657.1 722.0L1657.7 723.8L1658.3 724.7L1658.9 725.1L1659.5 723.3L1660.1 725.1L1660.7 724.8L1661.3 726.2L1661.9 728.1L1662.5 732.8L1663.1 739.7L1663.7 744.5L1664.3 749.3L1664.9 753.7L1665.5 752.2L1666.1 750.1L1666.7 746.3L1667.3 743.6L1667.9 738.8L1668.5 734.7L1669.1 732.2L1669.7 732.1L1670.3 735.2L1670.9 739.8L1671.5 745.0L1672.1 749.7L1672.7 755.5L1673.3 761.9L1673.9 762.5L1674.5 773.1L1675.1 775.7L1675.7 777.9L1676.3 778.3L1676.9 781.6L1677.5 783.1L1678.1 788.9L1678.7 788.6L1679.3 800.3L1679.9 806.1L1680.5 813.4L1681.1 820.6L1681.7 824.6L1682.3 828.2L1682.9 830.9L1683.5 823.6L1684.1 822.5L1684.7 815.6L1685.3 810.0L1685.9 807.3L1686.5 808.7L1687.1 808.3L1687.7 812.6L1688.3 814.4L1688.9 818.4L1689.5 823.2L1690.1 825.6L1690.7 828.7L1691.3 827.8L1691.9 830.4L1692.5 830.3L1693.1 830.2L1693.7 831.8L1694.3 830.7L1694.9 833.3L1695.5 833.1L1696.1 831.8L1696.7 840.2L1697.3 844.4L1697.9 851.3L1698.5 856.2L1699.1 863.2L1699.7 870.7L1700.3 874.0L1700.9 877.6L1701.5 880.9L1702.1 879.9L1702.7 878.3L1703.3 877.8L1703.9 875.8L1704.5 872.6L1705.1 871.7L1705.7 868.4L1706.3 867.2L1706.9 866.3L1707.5 863.9L1708.1 863.7L1708.7 864.4L1709.3 864.4L1709.9 865.3L1710.5 866.7L1711.1 869.3L1711.7 868.8L1712.3 870.7L1712.9 872.6L1713.5 871.5L1714.1 873.1L1714.7 872.4L1715.3 866.4L1715.9 860.9L1716.5 853.6L1717.1 846.6L1717.7 837.8L1718.3 822.7L1718.9 814.7L1719.5 806.8L1720.1 799.6L1720.7 792.8L1721.3 787.1L1721.9 782.1L1722.5 777.1L1723.1 772.7L1723.7 768.7L1724.3 766.6L1724.9 760.8L1725.5 757.0L1726.1 755.2L1726.7 751.6L1727.3 746.7L1727.9 744.1L1728.5 742.9L1729.1 740.6L1729.7 737.0L1730.3 734.2L1730.9 731.5L1731.5 725.8L1732.1 718.3L1732.7 713.6L1733.3 712.9L1733.9 712.9L1734.5 712.7L1735.1 714.2L1735.7 714.5L1736.3 714.7L1736.9 714.5L1737.5 713.6L1738.1 713.4L1738.7 701.8L1739.3 699.5L1739.9 694.2L1740.5 691.6L1741.1 690.2L1741.7 689.5L1742.3 689.7L1742.9 689.5L1743.5 689.2L1744.1 688.9L1744.7 685.6L1745.3 684.0L1745.9 678.4L1746.5 669.1L1747.1 666.5L1747.7 664.4L1748.3 664.5L1748.9 669.0L1749.5 675.2L1750.1 680.2L1750.7 684.0L1751.3 681.8L1751.9 681.8L1752.5 681.8L1753.1 680.4L1753.7 676.6L1754.3 674.4L1754.9 670.1L1755.5 661.5L1756.1 653.6L1756.7 647.0L1757.3 643.6L1757.9 640.3L1758.5 639.1L1759.1 637.2L1759.7 635.7L1760.3 633.0L1760.9 629.3L1761.5 625.0L1762.1 615.0L1762.7 601.1L1763.3 589.6L1763.9 586.2L1764.5 583.3L1765.1 582.1L1765.7 580.3L1766.3 578.4L1766.9 576.6L1767.5 574.3L1768.1 569.7L1768.7 563.3L1769.3 558.0L1769.9 551.2L1770.5 549.9L1771.1 544.2L1771.7 539.9L1772.3 533.5L1772.9 528.1L1773.5 520.4L1774.1 512.1L1774.7 503.3L1775.3 495.3L1775.9 488.9L1776.5 482.8L1777.1 478.2L1777.7 473.7L1778.3 469.2L1778.9 465.1L1779.5 460.2L1780.1 454.7L1780.7 449.4L1781.3 443.6L1781.9 438.1L1782.5 432.0L1783.1 425.4L1783.7 418.2L1784.3 410.4L1784.9 401.5L1785.5 390.0L1786.1 376.7L1786.7 362.8L1787.3 346.5L1787.9 331.1L1788.5 320.0L1789.1 310.8L1789.7 302.6L1790.3 295.3L1790.9 288.3L1791.5 281.4L1792.1 274.2L1792.7 266.9L1793.3 259.9L1793.9 253.4L1794.5 247.4L1795.1 242.2L1795.7 237.5L1796.3 233.3L1796.9 229.3L1797.5 225.7L1798.1 222.2L1798.7 218.8L1799.3 215.8L1799.9 212.7L1800.5 209.9L1801.1 207.2L1801.7 204.5L1802.3 202.1L1802.9 199.8L1803.5 197.4L1804.1 195.3L1804.7 192.9L1805.3 190.8L1805.9 188.5L1806.5 186.1L1807.1 183.8L1807.7 181.4L1808.3 179.2L1808.9 176.9L1809.5 174.8L1810.1 172.7L1810.7 171.0L1811.3 169.4L1811.9 168.1L1812.5 166.7L1813.1 165.5L1813.7 164.3L1814.3 163.3L1814.9 162.6L1815.5 161.9L1816.1 161.2L1816.7 160.7L1817.3 160.0L1817.9 159.5L1818.5 158.7L1819.1 158.3L1819.7 157.4L1820.3 156.4L1820.9 154.9L1821.5 153.2L1822.1 151.5L1822.7 149.6L1823.3 147.7L1823.9 145.6L1824.5 143.5L1825.1 141.5L1825.7 139.7L1826.3 138.4L1826.9 136.7L1827.5 135.6L1828.1 134.6L1828.7 133.7L1829.3 132.9L1829.9 132.2L1830.5 131.1L1831.1 130.7L1831.7 130.2L1832.3 129.6L1832.9 129.0L1833.5 128.2L1834.1 127.8L1834.7 127.2L1835.3 126.5L1835.9 126.0L1836.5 125.3L1837.1 124.6L1837.7 124.0L1838.3 123.4L1838.9 122.9L1839.5 122.5L1840.1 122.0L1840.7 121.4L1841.3 121.1L1841.9 120.6L1842.5 120.2L1843.1 119.8L1843.7 119.4L1844.3 119.1L1844.9 118.6L1845.5 118.4L1846.1 118.1L1846.7 117.7L1847.3 117.3L1847.9 117.0L1848.5 116.7L1849.1 116.5L1849.7 116.1L1850.3 115.9L1850.9 115.7L1851.5 115.1L1852.1 115.1L1852.7 114.8L1853.3 114.7L1853.9 114.4L1854.5 114.1L1855.1 114.1L1855.7 113.9L1856.3 113.7L1856.9 113.6L1857.5 113.4L1858.1 113.2L1858.7 113.1L1859.3 112.9L1859.9 112.8L1860.5 112.6L1861.1 112.6L1861.7 112.5L1862.3 112.4L1862.9 112.4" stroke="#ff0000"/>
<path d="M1390.3,880 L1390.75,847.5 L1391.5,886" stroke="#ff0000"/>
<path d="M280.7 158.1L281.3 153.6L281.9 150.0L282.5 147.8L283.1 146.6L283.7 146.1L284.3 147.4L284.9 150.7L285.5 155.5L286.1 161.2L286.7 167.5L287.3 173.4L287.9 178.4L288.5 182.3L289.1 185.7L289.7 189.2L290.3 192.9L290.9 195.8L291.5 198.3L292.1 199.9L292.7 200.1L293.3 200.0L293.9 199.8L294.5 199.2L295.1 198.8L295.7 197.8L296.3 197.1L296.9 196.0L297.5 193.6L298.1 190.5L298.7 186.3L299.3 181.7L299.9 177.3L300.5 171.0L301.1 163.8L301.7 157.4L302.3 154.5L302.9 155.4L303.5 159.1L304.1 164.1L304.7 169.8L305.3 175.4L305.9 180.0L306.5 182.3L307.1 182.6L307.7 181.9L308.3 180.9L308.9 179.8L309.5 178.4L310.1 177.6L310.7 176.6L311.3 176.5L311.9 176.7L312.5 177.8L313.1 179.2L313.7 181.2L314.3 185.9L314.9 191.9L315.5 197.3L316.1 200.8L316.7 203.3L317.3 205.0L317.9 206.8L318.5 208.5L319.1 210.4L319.7 213.2L320.3 217.3L320.9 222.9L321.5 229.4L322.1 235.8L322.7 242.1L323.3 248.3L323.9 254.4L324.5 260.3L325.1 266.1L325.7 272.7L326.3 279.3L326.9 284.1L327.5 285.1L328.1 284.8L328.7 284.6L329.3 284.4L329.9 285.1L330.5 290.1L331.1 297.3L331.7 303.4L332.3 307.0L332.9 309.4L333.5 311.8L334.1 313.7L334.7 315.7L335.3 318.7L335.9 322.2L336.5 326.4L337.1 330.1L337.7 332.1L338.3 332.4L338.9 332.0L339.5 331.7L340.1 331.5L340.7 331.6L341.3 332.2L341.9 333.1L342.5 334.1L343.1 335.5L343.7 337.2L344.3 339.2L344.9 344.0L345.5 350.6L346.1 358.3L346.7 365.8L347.3 373.7L347.9 382.4L348.5 389.9L349.1 395.5L349.7 400.1L350.3 404.2L350.9 407.6L351.5 410.4L352.1 412.2L352.7 413.3L353.3 414.0L353.9 415.3L354.5 433.2L355.1 474.1L355.7 503.0L356.3 510.6L356.9 511.6L357.5 505.4L358.1 493.8L358.7 484.4L359.3 481.5L359.9 484.0L360.5 490.4L361.1 497.5L361.7 506.4L362.3 511.6L362.9 515.2L363.5 518.7L364.1 520.8L364.7 525.3L365.3 536.2L365.9 551.1L366.5 549.6L367.1 549.2L367.7 555.6L368.3 568.7L368.9 573.7L369.5 576.9L370.1 579.9L370.7 582.5L371.3 584.1L371.9 588.2L372.5 588.9L373.1 591.5L373.7 595.3L374.3 600.6L374.9 602.2L375.5 609.1L376.1 613.5L376.7 618.2L377.3 624.4L377.9 626.6L378.5 627.7L379.1 627.0L379.7 625.9L380.3 626.7L380.9 628.6L381.5 630.3L382.1 632.7L382.7 631.9L383.3 638.2L383.9 640.1L384.5 640.0L385.1 643.6L385.7 644.9L386.3 647.3L386.9 647.5L387.5 650.7L388.1 651.0L388.7 652.1L389.3 653.6L389.9 654.2L390.5 652.4L391.1 655.0L391.7 662.5L392.3 659.8L392.9 662.7L393.5 669.6L394.1 671.1L394.7 676.7L395.3 677.7L395.9 683.6L396.5 686.7L397.1 692.6L397.7 696.4L398.3 702.6L398.9 706.6L399.5 708.0L400.1 712.1L400.7 716.1L401.3 720.0L401.9 719.1L402.5 723.5L403.1 722.4L403.7 728.7L404.3 727.6L404.9 731.5L405.5 736.3L406.1 738.7L406.7 746.7L407.3 749.7L407.9 751.4L408.5 760.0L409.1 763.2L409.7 768.4L410.3 774.2L410.9 776.6L411.5 782.6L412.1 783.4L412.7 789.4L413.3 795.5L413.9 795.4L414.5 798.7L415.1 802.9L415.7 807.6L416.3 811.9L416.9 815.3L417.5 820.4L418.1 820.5L418.7 827.1L419.3 829.3L419.9 831.3L420.5 832.7L421.1 832.9L421.7 836.8L422.3 837.3L422.9 836.5L423.5 843.4L424.1 838.7L424.7 839.6L425.3 841.2L425.9 842.6L426.5 840.7L427.1 844.4L427.7 844.8L428.3 846.4L428.9 843.8L429.5 847.2L430.1 844.7L430.7 846.3L431.3 847.5L431.9 844.6L432.5 846.5L433.1 847.2L433.7 845.5L434.3 846.2L434.9 848.9L435.5 848.6L436.1 848.2L436.7 849.2L437.3 846.9L437.9 846.7L438.5 850.3L439.1 850.4L439.7 847.6L440.3 851.6L440.9 849.6L441.5 850.9L442.1 850.8L442.7 853.3L443.3 852.3L443.9 848.4L444.5 845.7L445.1 841.1L445.7 835.5L446.3 833.6L446.9 829.7L447.5 829.2L448.1 828.3L448.7 826.7L449.3 825.2L449.9 820.5L450.5 818.6L451.1 817.9L451.7 816.8L452.3 812.3L452.9 811.9L453.5 811.3L454.1 809.7L454.7 804.5L455.3 803.1L455.9 800.7L456.5 798.4L457.1 799.1L457.7 796.7L458.3 791.4L458.9 789.5L459.5 790.3L460.1 784.8L460.7 784.0L461.3 781.8L461.9 782.1L462.5 778.9L463.1 779.9L463.7 777.4L464.3 778.4L464.9 778.3L465.5 775.4L466.1 774.6L466.7 776.2L467.3 776.0L467.9 772.5L468.5 771.3L469.1 768.4L469.7 765.2L470.3 762.3L470.9 761.3L471.5 755.7L472.1 758.2L472.7 754.5L473.3 754.7L473.9 755.3L474.5 752.2L475.1 750.1L475.7 752.0L476.3 747.9L476.9 745.7L477.5 745.0L478.1 742.0L478.7 743.3L479.3 744.5L479.9 743.7L480.5 746.3L481.1 747.2L481.7 748.7L482.3 747.5L482.9 746.4L483.5 745.3L484.1 743.3L484.7 739.7L485.3 736.8L485.9 737.4L486.5 734.3L487.1 735.0L487.7 732.7L488.3 732.8L488.9 732.1L489.5 731.9L490.1 729.9L490.7 728.7L491.3 722.0L491.9 719.5L492.5 713.6L493.1 707.7L493.7 703.3L494.3 698.0L494.9 689.2L495.5 685.2L496.1 675.7L496.7 672.9L497.3 665.0L497.9 659.0L498.5 650.9L499.1 645.8L499.7 636.6L500.3 631.7L500.9 626.7L501.5 625.8L502.1 626.9L502.7 631.6L503.3 633.2L503.9 629.5L504.5 628.5L505.1 625.1L505.7 627.3L506.3 629.0L506.9 628.4L507.5 632.2L508.1 634.1L508.7 632.4L509.3 633.1L509.9 629.3L510.5 628.6L511.1 625.6L511.7 624.9L512.3 629.8L512.9 634.6L513.5 637.1L514.1 642.8L514.7 645.7L515.3 642.3L515.9 641.8L516.5 641.4L517.1 645.4L517.7 651.2L518.3 662.2L518.9 668.6L519.5 678.0L520.1 688.1L520.7 688.8L521.3 690.9L521.9 691.0L522.5 695.5L523.1 693.4L523.7 693.1L524.3 691.0L524.9 690.3L525.5 686.6L526.1 687.7L526.7 690.3L527.3 694.8L527.9 706.1L528.5 711.3L529.1 714.9L529.7 721.8L530.3 719.3L530.9 720.7L531.5 713.4L532.1 714.3L532.7 714.0L533.3 711.0L533.9 710.7L534.5 713.8L535.1 713.8L535.7 715.4L536.3 716.8L536.9 718.4L537.5 720.2L538.1 719.0L538.7 719.0L539.3 715.1L539.9 716.0L540.5 714.1L541.1 713.8L541.7 714.2L542.3 713.4L542.9 714.1L543.5 717.4L544.1 718.3L544.7 716.4L545.3 711.2L545.9 710.9L546.5 708.9L547.1 705.0L547.7 700.9L548.3 697.6L548.9 704.2L549.5 704.4L550.1 703.7L550.7 704.5L551.3 707.5L551.9 706.8L552.5 707.4L553.1 709.1L553.7 707.9L554.3 705.9L554.9 699.3L555.5 695.3L556.1 691.8L556.7 690.4L557.3 692.1L557.9 691.1L558.5 690.6L559.1 691.5L559.7 691.4L560.3 693.0L560.9 690.8L561.5 689.0L562.1 692.3L562.7 689.7L563.3 690.9L563.9 688.1L564.5 689.5L565.1 686.2L565.7 685.5L566.3 687.6L566.9 687.1L567.5 684.4L568.1 684.6L568.7 688.3L569.3 687.9L569.9 686.7L570.5 687.8L571.1 688.1L571.7 691.2L572.3 689.9L572.9 690.4L573.5 692.8L574.1 691.8L574.7 695.3L575.3 690.7L575.9 693.8L576.5 692.2L577.1 691.8L577.7 691.9L578.3 693.6L578.9 690.7L579.5 693.7L580.1 694.1L580.7 691.5L581.3 691.9L581.9 686.0L582.5 685.9L583.1 680.3L583.7 681.0L584.3 684.0L584.9 680.7L585.5 680.6L586.1 680.9L586.7 676.1L587.3 671.8L587.9 667.3L588.5 668.1L589.1 669.8L589.7 673.2L590.3 676.5L590.9 678.0L591.5 684.3L592.1 687.6L592.7 688.6L593.3 693.5L593.9 698.9L594.5 698.7L595.1 698.7L595.7 702.8L596.3 704.9L596.9 706.6L597.5 705.5L598.1 704.6L598.7 711.8L599.3 711.3L599.9 713.7L600.5 715.1L601.1 715.2L601.7 714.6L602.3 714.6L602.9 718.7L603.5 716.7L604.1 717.5L604.7 715.6L605.3 716.2L605.9 716.2L606.5 718.7L607.1 722.5L607.7 724.2L608.3 724.9L608.9 723.9L609.5 725.5L610.1 721.0L610.7 723.5L611.3 722.3L611.9 720.8L612.5 718.7L613.1 717.1L613.7 715.2L614.3 714.5L614.9 714.6L615.5 711.9L616.1 710.7L616.7 710.8L617.3 710.1L617.9 709.3L618.5 715.3L619.1 723.0L619.7 728.0L620.3 726.1L620.9 726.9L621.5 721.6L622.1 723.2L622.7 720.5L623.3 722.6L623.9 723.3L624.5 727.2L625.1 730.2L625.7 728.2L626.3 727.0L626.9 724.8L627.5 725.0L628.1 724.3L628.7 729.9L629.3 736.4L629.9 737.8L630.5 735.5L631.1 735.7L631.7 728.9L632.3 726.4L632.9 726.7L633.5 727.8L634.1 720.0L634.7 720.2L635.3 719.4L635.9 716.4L636.5 715.4L637.1 710.9L637.7 710.4L638.3 707.3L638.9 703.1L639.5 703.2L640.1 705.0L640.7 705.1L641.3 703.2L641.9 704.6L642.5 703.0L643.1 705.0L643.7 705.4L644.3 705.6L644.9 708.4L645.5 709.6L646.1 712.2L646.7 717.6L647.3 718.4L647.9 720.9L648.5 722.8L649.1 724.2L649.7 725.7L650.3 727.9L650.9 728.9L651.5 729.4L652.1 728.3L652.7 728.7L653.3 727.6L653.9 727.4L654.5 727.2L655.1 726.3L655.7 726.3L656.3 721.9L656.9 716.7L657.5 718.1L658.1 715.5L658.7 715.6L659.3 718.0L659.9 720.5L660.5 718.2L661.1 713.5L661.7 712.2L662.3 707.0L662.9 702.6L663.5 696.3L664.1 689.0L664.7 686.8L665.3 680.2L665.9 677.8L666.5 675.4L667.1 671.0L667.7 668.7L668.3 663.9L668.9 661.6L669.5 660.1L670.1 661.4L670.7 660.5L671.3 660.2L671.9 664.9L672.5 672.0L673.1 677.8L673.7 681.0L674.3 688.8L674.9 686.7L675.5 686.3L676.1 685.4L676.7 684.3L677.3 684.0L677.9 686.0L678.5 687.8L679.1 690.1L679.7 691.5L680.3 696.6L680.9 697.6L681.5 698.4L682.1 701.1L682.7 701.6L683.3 704.4L683.9 703.2L684.5 707.6L685.1 706.6L685.7 706.6L686.3 709.5L686.9 707.9L687.5 705.5L688.1 711.4L688.7 714.0L689.3 715.2L689.9 713.4L690.5 715.4L691.1 719.0L691.7 719.3L692.3 722.0L692.9 722.3L693.5 725.2L694.1 726.2L694.7 731.7L695.3 732.2L695.9 736.8L696.5 738.3L697.1 740.3L697.7 742.6L698.3 746.4L698.9 747.4L699.5 752.5L700.1 753.3L700.7 756.9L701.3 758.3L701.9 758.1L702.5 757.0L703.1 755.6L703.7 759.6L704.3 757.7L704.9 757.3L705.5 758.8L706.1 765.7L706.7 761.1L707.3 762.2L707.9 764.3L708.5 764.4L709.1 764.8L709.7 764.3L710.3 762.5L710.9 761.8L711.5 764.0L712.1 759.9L712.7 754.8L713.3 746.3L713.9 735.2L714.5 730.8L715.1 741.4L715.7 747.3L716.3 748.2L716.9 748.4L717.5 751.1L718.1 750.3L718.7 749.0L719.3 749.2L719.9 753.3L720.5 752.8L721.1 749.5L721.7 751.8L722.3 751.0L722.9 749.4L723.5 749.8L724.1 747.8L724.7 748.9L725.3 744.3L725.9 746.6L726.5 747.5L727.1 746.3L727.7 747.5L728.3 751.2L728.9 750.9L729.5 753.6L730.1 752.4L730.7 752.9L731.3 758.2L731.9 755.8L732.5 757.6L733.1 758.1L733.7 757.4L734.3 756.3L734.9 756.0L735.5 756.5L736.1 754.3L736.7 753.2L737.3 758.2L737.9 760.1L738.5 762.5L739.1 759.0L739.7 760.7L740.3 756.8L740.9 757.2L741.5 752.7L742.1 753.6L742.7 754.6L743.3 752.2L743.9 756.1L744.5 757.0L745.1 756.2L745.7 760.6L746.3 760.8L746.9 759.7L747.5 759.1L748.1 758.1L748.7 759.9L749.3 759.3L749.9 755.3L750.5 758.8L751.1 756.5L751.7 758.2L752.3 758.8L752.9 758.9L753.5 761.5L754.1 763.1L754.7 765.8L755.3 766.0L755.9 770.1L756.5 775.4L757.1 775.6L757.7 783.4L758.3 786.1L758.9 789.0L759.5 792.0L760.1 796.4L760.7 799.4L761.3 797.5L761.9 800.7L762.5 798.3L763.1 798.9L763.7 796.6L764.3 796.8L764.9 795.0L765.5 795.3L766.1 792.2L766.7 794.4L767.3 790.4L767.9 788.4L768.5 784.5L769.1 783.9L769.7 782.3L770.3 777.8L770.9 775.7L771.5 773.5L772.1 771.1L772.7 771.7L773.3 770.8L773.9 769.4L774.5 769.9L775.1 768.0L775.7 768.7L776.3 768.3L776.9 769.5L777.5 768.6L778.1 768.1L778.7 768.5L779.3 765.8L779.9 764.3L780.5 759.0L781.1 755.9L781.7 754.1L782.3 752.1L782.9 748.2L783.5 751.1L784.1 749.8L784.7 747.7L785.3 748.1L785.9 750.3L786.5 751.2L787.1 755.6L787.7 754.4L788.3 754.3L788.9 754.5L789.5 751.5L790.1 750.4L790.7 748.5L791.3 747.1L791.9 750.0L792.5 749.4L793.1 750.2L793.7 750.3L794.3 748.7L794.9 752.1L795.5 753.3L796.1 755.3L796.7 757.5L797.3 756.6L797.9 755.8L798.5 754.8L799.1 755.9L799.7 753.5L800.3 750.7L800.9 746.6L801.5 744.9L802.1 744.0L802.7 744.5L803.3 743.8L803.9 743.1L804.5 745.8L805.1 747.4L805.7 746.2L806.3 745.5L806.9 746.7L807.5 749.3L808.1 750.9L808.7 748.5L809.3 747.8L809.9 742.3L810.5 739.4L811.1 740.0L811.7 739.9L812.3 740.7L812.9 740.5L813.5 740.3L814.1 741.1L814.7 740.4L815.3 741.7L815.9 739.7L816.5 740.6L817.1 740.3L817.7 737.5L818.3 738.4L818.9 735.7L819.5 736.0L820.1 734.7L820.7 733.5L821.3 731.8L821.9 730.9L822.5 729.5L823.1 729.2L823.7 728.3L824.3 729.6L824.9 725.8L825.5 726.3L826.1 723.7L826.7 723.3L827.3 720.7L827.9 718.5L828.5 719.1L829.1 716.7L829.7 715.2L830.3 712.1L830.9 712.3L831.5 710.4L832.1 711.4L832.7 709.7L833.3 712.1L833.9 711.6L834.5 710.8L835.1 711.5L835.7 710.3L836.3 711.5L836.9 712.2L837.5 715.7L838.1 715.1L838.7 713.8L839.3 713.4L839.9 711.5L840.5 713.5L841.1 711.8L841.7 712.9L842.3 710.4L842.9 714.8L843.5 713.7L844.1 713.3L844.7 716.0L845.3 717.3L845.9 721.4L846.5 723.5L847.1 723.9L847.7 730.7L848.3 731.9L848.9 736.8L849.5 737.6L850.1 742.5L850.7 744.8L851.3 747.5L851.9 750.8L852.5 753.7L853.1 751.7L853.7 753.1L854.3 756.0L854.9 754.7L855.5 749.0L856.1 746.2L856.7 742.4L857.3 741.2L857.9 743.3L858.5 740.8L859.1 739.1L859.7 740.7L860.3 742.2L860.9 741.4L861.5 743.7L862.1 740.9L862.7 741.3L863.3 742.8L863.9 741.4L864.5 743.8L865.1 743.7L865.7 743.7L866.3 744.5L866.9 743.8L867.5 744.8L868.1 746.2L868.7 749.4L869.3 746.7L869.9 749.8L870.5 753.0L871.1 754.5L871.7 757.8L872.3 758.0L872.9 761.6L873.5 761.7L874.1 761.0L874.7 754.6L875.3 748.8L875.9 744.3L876.5 743.5L877.1 745.6L877.7 745.0L878.3 747.4L878.9 745.0L879.5 746.3L880.1 747.6L880.7 745.5L881.3 747.4L881.9 744.8L882.5 744.1L883.1 742.8L883.7 736.4L884.3 728.9L884.9 726.8L885.5 731.3L886.1 736.4L886.7 733.1L887.3 733.9L887.9 733.0L888.5 734.2L889.1 735.6L889.7 732.7L890.3 734.9L890.9 735.2L891.5 733.5L892.1 730.9L892.7 732.0L893.3 729.5L893.9 724.3L894.5 722.7L895.1 720.4L895.7 722.7L896.3 722.9L896.9 720.9L897.5 722.3L898.1 724.0L898.7 725.9L899.3 726.9L899.9 726.4L900.5 727.0L901.1 726.6L901.7 726.7L902.3 726.1L902.9 728.4L903.5 728.5L904.1 727.5L904.7 731.0L905.3 727.9L905.9 730.0L906.5 730.1L907.1 726.2L907.7 724.9L908.3 727.5L908.9 723.3L909.5 724.6L910.1 724.4L910.7 722.0L911.3 724.2L911.9 726.1L912.5 724.2L913.1 724.6L913.7 725.7L914.3 725.8L914.9 729.2L915.5 728.8L916.1 726.8L916.7 728.1L917.3 724.2L917.9 717.7L918.5 715.8L919.1 714.4L919.7 713.9L920.3 716.0L920.9 721.0L921.5 721.3L922.1 722.9L922.7 726.2L923.3 726.7L923.9 729.5L924.5 731.4L925.1 731.4L925.7 732.3L926.3 731.4L926.9 728.0L927.5 722.9L928.1 719.9L928.7 717.2L929.3 714.4L929.9 712.1L930.5 708.2L931.1 708.4L931.7 711.3L932.3 707.6L932.9 707.7L933.5 707.8L934.1 707.6L934.7 709.2L935.3 707.3L935.9 708.9L936.5 702.7L937.1 702.1L937.7 701.2L938.3 700.8L938.9 703.0L939.5 699.8L940.1 698.7L940.7 700.9L941.3 698.6L941.9 695.1L942.5 692.3L943.1 689.5L943.7 687.6L944.3 687.5L944.9 687.3L945.5 687.3L946.1 687.5L946.7 687.3L947.3 692.1L947.9 690.5L948.5 689.0L949.1 689.9L949.7 687.7L950.3 687.9L950.9 684.9L951.5 686.6L952.1 685.7L952.7 686.8L953.3 683.1L953.9 679.3L954.5 677.7L955.1 672.4L955.7 670.0L956.3 667.8L956.9 666.2L957.5 663.7L958.1 665.4L958.7 671.1L959.3 671.9L959.9 677.3L960.5 673.8L961.1 674.4L961.7 673.9L962.3 675.2L962.9 673.1L963.5 672.0L964.1 675.0L964.7 674.3L965.3 675.7L965.9 678.2L966.5 681.6L967.1 688.8L967.7 691.9L968.3 698.2L968.9 699.2L969.5 704.0L970.1 702.0L970.7 703.6L971.3 702.4L971.9 702.1L972.5 702.2L973.1 701.3L973.7 703.5L974.3 706.4L974.9 707.3L975.5 712.7L976.1 714.3L976.7 718.2L977.3 720.9L977.9 727.0L978.5 728.3L979.1 731.5L979.7 736.0L980.3 741.4L980.9 747.9L981.5 749.5L982.1 756.5L982.7 756.4L983.3 754.2L983.9 754.2L984.5 752.8L985.1 746.4L985.7 744.2L986.3 746.2L986.9 744.1L987.5 745.6L988.1 750.1L988.7 752.4L989.3 752.8L989.9 756.1L990.5 762.3L991.1 773.6L991.7 777.5L992.3 784.1L992.9 789.6L993.5 792.3L994.1 791.5L994.7 795.7L995.3 793.0L995.9 800.9L996.5 802.9L997.1 807.7L997.7 812.1L998.3 816.1L998.9 817.2L999.5 815.0L1000.1 813.5L1000.7 809.4L1001.3 808.9L1001.9 805.9L1002.5 803.7L1003.1 800.5L1003.7 802.2L1004.3 802.3L1004.9 807.3L1005.5 806.9L1006.1 803.7L1006.7 800.7L1007.3 795.6L1007.9 792.9L1008.5 792.9L1009.1 791.4L1009.7 791.2L1010.3 791.4L1010.9 789.2L1011.5 797.9L1012.1 799.3L1012.7 803.3L1013.3 803.9L1013.9 806.8L1014.5 809.5L1015.1 813.4L1015.7 819.3L1016.3 822.3L1016.9 826.0L1017.5 835.9L1018.1 836.8L1018.7 843.8L1019.3 844.2L1019.9 845.3L1020.5 844.6L1021.1 838.0L1021.7 834.8L1022.3 825.5L1022.9 822.6L1023.5 816.2L1024.1 811.8L1024.7 809.3L1025.3 802.1L1025.9 805.1L1026.5 797.3L1027.1 792.2L1027.7 794.3L1028.3 789.1L1028.9 789.8L1029.5 793.9L1030.1 792.8L1030.7 796.7L1031.3 802.5L1031.9 804.9L1032.5 806.1L1033.1 808.9L1033.7 817.9L1034.3 817.1L1034.9 820.2L1035.5 822.1L1036.1 823.6L1036.7 826.1L1037.3 823.2L1037.9 827.0L1038.5 829.3L1039.1 820.6L1039.7 814.5L1040.3 805.9L1040.9 798.3L1041.5 793.9L1042.1 785.3L1042.7 780.5L1043.3 774.3L1043.9 767.0L1044.5 758.7L1045.1 752.0L1045.7 746.9L1046.3 746.8L1046.9 747.6L1047.5 745.7L1048.1 749.4L1048.7 747.1L1049.3 753.0L1049.9 754.9L1050.5 754.8L1051.1 757.6L1051.7 760.8L1052.3 765.4L1052.9 769.8L1053.5 774.3L1054.1 779.4L1054.7 782.4L1055.3 786.1L1055.9 787.5L1056.5 795.8L1057.1 801.1L1057.7 811.2L1058.3 816.5L1058.9 823.6L1059.5 829.2L1060.1 840.2L1060.7 848.7L1061.3 861.2L1061.9 868.6L1062.5 873.3L1063.1 874.9L1063.7 884.3L1064.3 886.0L1064.9 889.8L1065.5 894.4L1066.1 898.9L1066.7 905.2L1067.3 912.3L1067.9 916.2L1068.5 913.9L1069.1 920.9L1069.7 920.3L1070.3 915.8L1070.9 915.4L1071.5 911.8L1072.1 909.3L1072.7 909.6L1073.3 907.4L1073.9 905.9L1074.5 902.6L1075.1 902.6L1075.7 901.5L1076.3 899.8L1076.9 900.0L1077.5 901.2L1078.1 901.0L1078.7 899.2L1079.3 899.3L1079.9 904.1L1080.5 903.9L1081.1 905.7L1081.7 904.0L1082.3 908.4L1082.9 908.2L1083.5 915.5L1084.1 917.0L1084.7 922.3L1085.3 927.5L1085.9 930.3L1086.5 936.4L1087.1 937.1L1087.7 945.0L1088.3 947.6L1088.9 952.0L1089.5 952.0L1090.1 952.6L1090.7 948.9L1091.3 947.1L1091.9 947.4L1092.5 945.5L1093.1 941.0L1093.7 936.3L1094.3 934.6L1094.9 927.7L1095.5 923.4L1096.1 922.2L1096.7 917.6L1097.3 913.6L1097.9 907.0L1098.5 903.5L1099.1 897.9L1099.7 897.5L1100.3 890.4L1100.9 888.1L1101.5 889.6L1102.1 888.1L1102.7 888.9L1103.3 890.6L1103.9 891.4L1104.5 892.6L1105.1 887.6L1105.7 891.4L1106.3 892.2L1106.9 894.3L1107.5 894.6L1108.1 893.9L1108.7 896.8L1109.3 897.4L1109.9 896.9L1110.5 897.4L1111.1 896.6L1111.7 897.8L1112.3 900.6L1112.9 895.8L1113.5 894.4L1114.1 890.8L1114.7 890.8L1115.3 890.6L1115.9 887.9L1116.5 886.8L1117.1 882.1L1117.7 881.9L1118.3 877.6L1118.9 884.6L1119.5 884.1L1120.1 886.0L1120.7 890.3L1121.3 893.4L1121.9 900.2L1122.5 898.8L1123.1 905.9L1123.7 909.7L1124.3 912.4L1124.9 914.0L1125.5 922.1L1126.1 925.3L1126.7 929.4L1127.3 935.5L1127.9 939.6L1128.5 943.2L1129.1 942.5L1129.7 943.5L1130.3 945.1L1130.9 941.9L1131.5 936.4L1132.1 934.5L1132.7 926.1L1133.3 919.6L1133.9 910.8L1134.5 894.5L1135.1 879.8L1135.7 862.7L1136.3 845.4L1136.9 833.2L1137.5 817.4L1138.1 806.3L1138.7 794.5L1139.3 780.7L1139.9 771.4L1140.5 757.9L1141.1 752.4L1141.7 742.4L1142.3 731.5L1142.9 725.7L1143.5 717.8L1144.1 707.7L1144.7 697.8L1145.3 693.7L1145.9 688.2L1146.5 682.5L1147.1 679.4L1147.7 678.7L1148.3 679.8L1148.9 679.2L1149.5 680.2L1150.1 682.2L1150.7 687.1L1151.3 689.3L1151.9 693.4L1152.5 696.1L1153.1 700.8L1153.7 696.6L1154.3 701.0L1154.9 702.3L1155.5 705.3L1156.1 713.1L1156.7 720.0L1157.3 725.4L1157.9 725.3L1158.5 722.2L1159.1 715.5L1159.7 713.5L1160.3 713.2L1160.9 715.6L1161.5 715.1L1162.1 715.3L1162.7 716.7L1163.3 719.8L1163.9 718.5L1164.5 718.4L1165.1 715.5L1165.7 705.9L1166.3 701.2L1166.9 700.6L1167.5 697.5L1168.1 698.0L1168.7 699.4L1169.3 697.9L1169.9 698.8L1170.5 698.0L1171.1 698.3L1171.7 699.0L1172.3 700.7L1172.9 697.3L1173.5 691.2L1174.1 685.7L1174.7 682.4L1175.3 674.6L1175.9 670.0L1176.5 664.5L1177.1 657.7L1177.7 652.2L1178.3 647.7L1178.9 643.2L1179.5 632.9L1180.1 624.7L1180.7 616.9L1181.3 611.5L1181.9 604.7L1182.5 604.0L1183.1 601.3L1183.7 602.4L1184.3 600.6L1184.9 601.2L1185.5 600.5L1186.1 600.4L1186.7 596.4L1187.3 594.9L1187.9 593.3L1188.5 591.0L1189.1 590.1L1189.7 589.8L1190.3 595.1L1190.9 600.3L1191.5 605.7L1192.1 609.3L1192.7 614.2L1193.3 620.7L1193.9 627.5L1194.5 629.9L1195.1 632.1L1195.7 629.9L1196.3 625.8L1196.9 626.0L1197.5 641.9L1198.1 664.0L1198.7 673.1L1199.3 676.4L1199.9 681.8L1200.5 687.7L1201.1 690.5L1201.7 691.4L1202.3 692.3L1202.9 693.5L1203.5 696.6L1204.1 695.3L1204.7 694.4L1205.3 698.7L1205.9 703.1L1206.5 705.3L1207.1 710.4L1207.7 712.5L1208.3 711.3L1208.9 713.6L1209.5 715.0L1210.1 719.3L1210.7 719.3L1211.3 718.7L1211.9 720.2L1212.5 719.7L1213.1 718.2L1213.7 717.5L1214.3 717.4L1214.9 719.9L1215.5 731.8L1216.1 735.1L1216.7 735.9L1217.3 742.0L1217.9 741.1L1218.5 742.1L1219.1 743.7L1219.7 743.0L1220.3 742.5L1220.9 744.1L1221.5 740.0L1222.1 741.0L1222.7 742.0L1223.3 743.9L1223.9 745.4L1224.5 750.0L1225.1 748.1L1225.7 753.9L1226.3 755.9L1226.9 754.5L1227.5 753.7L1228.1 754.3L1228.7 757.4L1229.3 758.8L1229.9 766.7L1230.5 768.7L1231.1 775.0L1231.7 777.8L1232.3 782.5L1232.9 784.2L1233.5 778.3L1234.1 778.4L1234.7 776.6L1235.3 773.1L1235.9 769.9L1236.5 771.6L1237.1 768.1L1237.7 769.9L1238.3 770.3L1238.9 772.1L1239.5 773.2L1240.1 776.9L1240.7 777.4L1241.3 774.7L1241.9 774.9L1242.5 774.3L1243.1 773.3L1243.7 768.5L1244.3 770.0L1244.9 770.3L1245.5 770.8L1246.1 773.4L1246.7 777.4L1247.3 781.2L1247.9 781.3L1248.5 781.2L1249.1 786.2L1249.7 786.7L1250.3 786.0L1250.9 787.3L1251.5 789.0L1252.1 789.7L1252.7 789.0L1253.3 796.0L1253.9 792.1L1254.5 793.2L1255.1 791.1L1255.7 793.8L1256.3 794.4L1256.9 791.4L1257.5 796.3L1258.1 798.0L1258.7 798.0L1259.3 803.9L1259.9 805.4L1260.5 811.2L1261.1 814.7L1261.7 817.7L1262.3 822.7L1262.9 826.1L1263.5 828.7L1264.1 831.7L1264.7 838.6L1265.3 841.4L1265.9 844.1L1266.5 849.9L1267.1 854.2L1267.7 855.1L1268.3 856.0L1268.9 863.8L1269.5 863.9L1270.1 865.4L1270.7 871.8L1271.3 873.7L1271.9 878.4L1272.5 881.6L1273.1 889.8L1273.7 890.4L1274.3 897.5L1274.9 897.0L1275.5 894.7L1276.1 893.4L1276.7 889.8L1277.3 887.2L1277.9 884.4L1278.5 877.0L1279.1 875.0L1279.7 871.0L1280.3 871.2L1280.9 866.1L1281.5 865.5L1282.1 860.7L1282.7 857.1L1283.3 853.5L1283.9 848.6L1284.5 843.5L1285.1 834.0L1285.7 831.0L1286.3 822.0L1286.9 821.0L1287.5 824.4L1288.1 825.9L1288.7 831.1L1289.3 838.6L1289.9 845.0L1290.5 852.1L1291.1 859.2L1291.7 862.8L1292.3 871.5L1292.9 876.8L1293.5 883.7L1294.1 892.7L1294.7 893.4L1295.3 897.8L1295.9 897.3L1296.5 895.3L1297.1 889.7L1297.7 881.5L1298.3 874.9L1298.9 862.8L1299.5 854.4L1300.1 846.9L1300.7 836.6L1301.3 829.1L1301.9 819.1L1302.5 814.5L1303.1 805.1L1303.7 798.2L1304.3 798.1L1304.9 794.7L1305.5 790.2L1306.1 786.6L1306.7 782.8L1307.3 779.3L1307.9 769.8L1308.5 760.9L1309.1 753.5L1309.7 742.0L1310.3 737.2L1310.9 729.7L1311.5 722.3L1312.1 716.5L1312.7 713.4L1313.3 711.0L1313.9 709.1L1314.5 704.5L1315.1 701.0L1315.7 696.7L1316.3 690.4L1316.9 685.5L1317.5 681.7L1318.1 672.6L1318.7 666.6L1319.3 660.6L1319.9 654.8L1320.5 653.3L1321.1 647.0L1321.7 643.4L1322.3 641.4L1322.9 639.0L1323.5 634.1L1324.1 630.6L1324.7 627.2L1325.3 623.0L1325.9 618.4L1326.5 612.3L1327.1 604.9L1327.7 596.7L1328.3 589.3L1328.9 584.4L1329.5 583.5L1330.1 584.8L1330.7 589.0L1331.3 594.0L1331.9 601.6L1332.5 603.4L1333.1 602.7L1333.7 601.9L1334.3 600.9L1334.9 601.6L1335.5 605.2L1336.1 616.8L1336.7 634.2L1337.3 645.5L1337.9 658.4L1338.5 673.2L1339.1 683.2L1339.7 699.0L1340.3 704.4L1340.9 708.9L1341.5 715.7L1342.1 717.7L1342.7 723.4L1343.3 726.6L1343.9 731.6L1344.5 735.1L1345.1 736.3L1345.7 739.6L1346.3 742.0L1346.9 747.6L1347.5 752.8L1348.1 758.9L1348.7 763.1L1349.3 768.3L1349.9 771.6L1350.5 773.0L1351.1 774.6L1351.7 773.4L1352.3 773.2L1352.9 770.3L1353.5 768.1L1354.1 762.4L1354.7 762.4L1355.3 763.3L1355.9 763.0L1356.5 764.6L1357.1 768.7L1357.7 771.6L1358.3 773.4L1358.9 778.8L1359.5 780.8L1360.1 781.2L1360.7 779.7L1361.3 776.4L1361.9 770.5L1362.5 766.4L1363.1 763.2L1363.7 763.7L1364.3 767.0L1364.9 766.8L1365.5 768.5L1366.1 769.4L1366.7 764.9L1367.3 762.6L1367.9 762.3L1368.5 758.8L1369.1 758.7L1369.7 756.2L1370.3 759.2L1370.9 756.1L1371.5 759.9L1372.1 759.7L1372.7 762.1L1373.3 760.8L1373.9 764.5L1374.5 765.5L1375.1 769.2L1375.7 770.8L1376.3 772.4L1376.9 776.1L1377.5 777.3L1378.1 781.4L1378.7 787.6L1379.3 791.7L1379.9 792.8L1380.5 798.5L1381.1 800.5L1381.7 804.7L1382.3 807.6L1382.9 811.7L1383.5 818.6L1384.1 821.3L1384.7 826.6L1385.3 833.2L1385.9 837.5L1386.5 842.9L1387.1 851.3L1387.7 858.3L1388.3 865.9L1388.9 871.2L1389.5 875.2L1390.1 881.9L1390.7 887.8L1391.3 895.1L1391.9 901.3L1392.5 904.8L1393.1 913.5L1393.7 917.8L1394.3 928.2L1394.9 933.9L1395.5 934.4L1396.1 933.9L1396.7 934.5L1397.3 935.4L1397.9 934.6L1398.5 930.3L1399.1 930.7L1399.7 926.9L1400.3 927.5L1400.9 921.7L1401.5 921.1L1402.1 917.5L1402.7 912.4L1403.3 910.8L1403.9 908.5L1404.5 905.3L1405.1 905.7L1405.7 900.3L1406.3 899.6L1406.9 895.0L1407.5 892.0L1408.1 885.3L1408.7 875.4L1409.3 871.4L1409.9 867.9L1410.5 863.3L1411.1 857.5L1411.7 855.8L1412.3 856.0L1412.9 853.5L1413.5 855.8L1414.1 856.9L1414.7 860.3L1415.3 863.1L1415.9 865.4L1416.5 868.6L1417.1 871.5L1417.7 868.8L1418.3 868.4L1418.9 864.2L1419.5 862.8L1420.1 860.9L1420.7 861.0L1421.3 866.1L1421.9 873.0L1422.5 875.7L1423.1 883.0L1423.7 887.4L1424.3 892.2L1424.9 895.7L1425.5 899.2L1426.1 902.0L1426.7 903.9L1427.3 908.4L1427.9 911.6L1428.5 915.8L1429.1 920.2L1429.7 925.7L1430.3 926.6L1430.9 932.6L1431.5 936.4L1432.1 937.8L1432.7 938.7L1433.3 943.6L1433.9 947.2L1434.5 947.3L1435.1 947.2L1435.7 951.5L1436.3 949.5L1436.9 950.9L1437.5 950.2L1438.1 952.6L1438.7 953.4L1439.3 955.4L1439.9 952.3L1440.5 951.9L1441.1 954.4L1441.7 955.7L1442.3 958.7L1442.9 961.5L1443.5 957.7L1444.1 959.6L1444.7 959.1L1445.3 955.2L1445.9 949.4L1446.5 947.0L1447.1 944.2L1447.7 945.0L1448.3 939.5L1448.9 937.2L1449.5 930.2L1450.1 928.7L1450.7 915.6L1451.3 913.4L1451.9 905.7L1452.5 898.4L1453.1 893.3L1453.7 890.1L1454.3 883.3L1454.9 884.6L1455.5 883.1L1456.1 882.9L1456.7 883.2L1457.3 887.0L1457.9 887.4L1458.5 892.8L1459.1 897.5L1459.7 906.2L1460.3 912.2L1460.9 924.3L1461.5 924.8L1462.1 934.9L1462.7 942.2L1463.3 947.4L1463.9 955.0L1464.5 963.2L1465.1 976.2L1465.7 980.7L1466.3 987.6L1466.9 992.9L1467.5 997.3L1468.1 1001.8L1468.7 1009.5L1469.3 1019.6L1469.9 1031.7L1470.5 1039.0L1471.1 1047.4L1471.7 1051.3L1472.3 1057.0L1472.9 1061.9L1473.5 1064.7L1474.1 1073.2L1474.7 1072.8L1475.3 1078.3L1475.9 1084.8L1476.5 1089.6L1477.1 1092.7L1477.7 1096.1L1478.3 1099.9L1478.9 1102.6L1479.5 1108.4L1480.1 1112.4L1480.7 1115.3L1481.3 1114.9L1481.9 1118.8L1482.5 1122.6L1483.1 1124.4L1483.7 1129.8L1484.3 1128.0L1484.9 1126.7L1485.5 1128.3L1486.1 1127.5L1486.4 1128.1L1486.7 1127.1L1487.0 1123.4L1487.3 1134.4L1487.6 1130.9L1487.9 1128.7L1488.2 1136.3L1488.5 1132.3L1488.8 1130.0L1489.1 1144.2L1489.4 1133.1L1489.7 1142.9L1490.0 1143.1L1490.3 1147.6L1490.6 1144.1L1490.9 1137.2L1491.2 1144.9L1491.5 1140.2L1491.8 1140.5L1492.1 1140.1L1492.4 1150.4L1492.7 1147.7L1493.0 1152.6L1493.3 1142.8L1493.6 1144.3L1493.9 1146.8L1494.2 1149.5L1494.5 1151.1L1494.8 1150.2L1495.1 1151.2L1495.4 1152.9L1495.7 1151.1L1496.0 1148.3L1496.3 1147.3L1496.6 1148.4L1496.9 1147.9L1497.2 1149.1L1497.5 1148.3L1497.8 1157.8L1498.1 1156.3L1498.4 1149.4L1498.7 1149.0L1499.0 1151.2L1499.3 1157.2L1499.6 1155.7L1499.9 1150.2L1500.2 1150.7L1500.5 1154.8L1500.8 1160.9L1501.1 1150.8L1501.4 1155.0L1501.7 1159.7L1502.0 1148.6L1502.3 1159.9L1502.6 1148.6L1502.9 1150.8L1503.2 1159.1L1503.5 1155.4L1503.8 1148.1L1504.1 1157.7L1504.4 1150.6L1504.7 1147.2L1505.0 1164.9L1505.3 1163.1L1505.6 1153.2L1505.9 1154.3L1506.2 1164.6L1506.5 1146.9L1506.8 1152.0L1507.1 1150.3L1507.4 1157.6L1507.7 1148.9L1508.0 1157.9L1508.3 1148.7L1508.6 1153.7L1508.9 1161.2L1509.2 1147.9L1509.5 1153.4L1509.8 1160.0L1510.1 1147.6L1510.4 1153.9L1510.7 1147.0L1511.0 1147.7L1511.3 1152.5L1511.6 1153.3L1511.9 1146.4L1512.2 1146.1L1512.5 1153.5L1512.8 1159.5L1513.1 1150.8L1513.4 1147.4L1513.7 1152.6L1514.0 1144.1L1514.3 1146.8L1514.6 1158.6L1514.9 1147.0L1515.2 1150.5L1515.5 1156.9L1515.8 1144.5L1516.1 1160.0L1516.4 1148.6L1516.7 1162.2L1517.0 1156.3L1517.3 1154.3L1517.6 1152.8L1517.9 1148.8L1518.2 1160.4L1518.5 1149.7L1518.8 1150.0L1519.1 1150.6L1519.4 1151.3L1519.7 1162.2L1520.0 1151.2L1520.3 1154.8L1520.6 1152.0L1520.9 1160.9L1521.2 1158.8L1521.5 1165.0L1521.8 1152.8L1522.1 1159.3L1522.4 1155.5L1522.7 1164.2L1523.0 1155.0L1523.3 1153.7L1523.6 1155.7L1523.9 1154.3L1524.2 1164.2L1524.5 1155.8L1524.8 1165.3L1525.1 1158.1L1525.4 1165.7L1525.7 1158.0L1526.0 1171.9L1526.3 1172.0L1526.6 1167.9L1526.9 1170.2L1527.2 1167.7L1527.5 1157.9L1527.8 1157.8L1528.1 1159.9L1528.4 1162.0L1528.7 1166.1L1529.0 1161.9L1529.3 1171.9L1529.6 1166.4L1529.9 1161.0L1530.2 1164.2L1530.5 1158.2L1530.8 1154.7L1531.1 1154.5L1531.4 1155.9L1531.7 1161.7L1532.0 1152.2L1532.3 1162.8L1532.6 1152.5L1532.9 1169.1L1533.2 1154.2L1533.5 1149.8L1533.8 1149.7L1534.1 1155.8L1534.4 1149.9L1534.7 1148.9L1535.0 1153.4L1535.3 1155.0L1535.6 1160.4L1535.9 1151.4L1536.2 1150.9L1536.5 1156.5L1536.8 1151.6L1537.1 1158.0L1537.4 1149.2L1537.7 1144.9L1538.0 1155.5L1538.3 1142.4L1538.6 1142.0L1538.9 1156.7L1539.2 1144.1L1539.5 1136.8L1539.8 1145.8L1540.1 1135.1L1540.4 1134.7L1540.7 1143.0L1541.3 1145.0L1541.9 1140.0L1542.5 1136.6L1543.1 1133.8L1543.7 1133.0L1544.3 1129.9L1544.9 1127.7L1545.5 1125.2L1546.1 1121.9L1546.7 1123.9L1547.3 1114.2L1547.9 1113.1L1548.5 1108.9L1549.1 1105.1L1549.7 1103.8L1550.3 1101.4L1550.9 1096.5L1551.5 1096.4L1552.1 1092.3L1552.7 1088.9L1553.3 1087.5L1553.9 1083.6L1554.5 1082.5L1555.1 1078.3L1555.7 1073.9L1556.3 1073.6L1556.9 1069.8L1557.5 1065.9L1558.1 1060.1L1558.7 1053.7L1559.3 1047.4L1559.9 1041.8L1560.5 1033.7L1561.1 1028.8L1561.7 1021.0L1562.3 1016.5L1562.9 1007.8L1563.5 1001.2L1564.1 992.5L1564.7 982.3L1565.3 964.5L1565.9 948.4L1566.5 934.8L1567.1 920.0L1567.7 906.8L1568.3 896.4L1568.9 885.3L1569.5 874.6L1570.1 867.5L1570.7 859.8L1571.3 853.2L1571.9 849.4L1572.5 847.8L1573.1 847.7L1573.7 843.7L1574.3 841.0L1574.9 840.4L1575.5 843.6L1576.1 841.0L1576.7 843.5L1577.3 844.1L1577.9 848.3L1578.5 847.5L1579.1 849.9L1579.7 846.6L1580.3 846.8L1580.9 841.3L1581.5 840.3L1582.1 838.4L1582.7 837.2L1583.3 833.2L1583.9 834.6L1584.5 831.8L1585.1 828.7L1585.7 826.5L1586.3 827.5L1586.9 825.6L1587.5 822.6L1588.1 821.2L1588.7 819.8L1589.3 818.5L1589.9 819.4L1590.5 816.2L1591.1 816.1L1591.7 816.4L1592.3 821.4L1592.9 820.2L1593.5 824.3L1594.1 826.6L1594.7 826.9L1595.3 833.3L1595.9 839.4L1596.5 841.5L1597.1 850.2L1597.7 854.6L1598.3 854.2L1598.9 855.9L1599.5 852.9L1600.1 848.4L1600.7 845.6L1601.3 839.0L1601.9 835.1L1602.5 831.9L1603.1 830.4L1603.7 830.4L1604.3 828.2L1604.9 825.8L1605.5 825.0L1606.1 826.3L1606.7 824.5L1607.3 827.9L1607.9 828.2L1608.5 827.9L1609.1 833.6L1609.7 833.6L1610.3 839.1L1610.9 840.2L1611.5 845.7L1612.1 849.7L1612.7 855.5L1613.3 860.1L1613.9 864.3L1614.5 871.2L1615.1 873.9L1615.7 879.4L1616.3 885.8L1616.9 888.7L1617.5 895.0L1618.1 898.4L1618.7 899.8L1619.3 904.8L1619.9 894.3L1620.5 890.8L1621.1 886.2L1621.7 890.7L1622.3 885.4L1622.9 887.4L1623.5 886.8L1624.1 888.5L1624.7 886.5L1625.3 888.4L1625.9 887.3L1626.5 887.1L1627.1 885.1L1627.7 884.3L1628.3 883.0L1628.9 879.8L1629.5 873.2L1630.1 870.3L1630.7 865.1L1631.3 859.2L1631.9 851.6L1632.5 840.4L1633.1 833.7L1633.7 827.0L1634.3 823.2L1634.9 822.5L1635.5 817.5L1636.1 819.3L1636.7 816.9L1637.3 818.2L1637.9 818.1L1638.5 816.2L1639.1 817.6L1639.7 819.4L1640.3 819.1L1640.9 822.0L1641.5 822.8L1642.1 823.3L1642.7 822.9L1643.3 823.4L1643.9 820.5L1644.5 813.7L1645.1 804.2L1645.7 791.6L1646.3 779.8L1646.9 772.9L1647.5 761.0L1648.1 756.8L1648.7 748.2L1649.3 741.4L1649.9 736.1L1650.5 730.2L1651.1 727.2L1651.7 723.3L1652.3 722.0L1652.9 721.6L1653.5 719.7L1654.1 715.8L1654.7 715.9L1655.3 716.0L1655.9 720.7L1656.5 722.0L1657.1 722.6L1657.7 724.6L1658.3 727.9L1658.9 726.7L1659.5 725.9L1660.1 726.3L1660.7 727.8L1661.3 729.3L1661.9 732.4L1662.5 735.3L1663.1 739.6L1663.7 745.3L1664.3 751.2L1664.9 755.9L1665.5 750.9L1666.1 754.4L1666.7 748.7L1667.3 743.1L1667.9 740.4L1668.5 736.9L1669.1 733.8L1669.7 736.6L1670.3 737.8L1670.9 739.4L1671.5 745.8L1672.1 753.3L1672.7 758.5L1673.3 764.5L1673.9 769.7L1674.5 775.0L1675.1 772.2L1675.7 781.5L1676.3 782.7L1676.9 782.0L1677.5 785.3L1678.1 791.1L1678.7 796.8L1679.3 799.6L1679.9 808.0L1680.5 813.9L1681.1 822.4L1681.7 829.5L1682.3 829.9L1682.9 833.7L1683.5 829.1L1684.1 822.5L1684.7 819.7L1685.3 813.3L1685.9 808.8L1686.5 812.0L1687.1 810.8L1687.7 813.6L1688.3 817.6L1688.9 819.8L1689.5 825.0L1690.1 827.4L1690.7 830.4L1691.3 829.7L1691.9 832.1L1692.5 834.4L1693.1 832.5L1693.7 835.7L1694.3 836.0L1694.9 836.5L1695.5 835.5L1696.1 835.9L1696.7 840.6L1697.3 844.9L1697.9 854.4L1698.5 859.0L1699.1 866.4L1699.7 873.3L1700.3 877.4L1700.9 879.1L1701.5 883.9L1702.1 881.7L1702.7 882.7L1703.3 883.3L1703.9 877.5L1704.5 875.8L1705.1 871.6L1705.7 870.6L1706.3 870.6L1706.9 867.5L1707.5 866.4L1708.1 867.2L1708.7 867.4L1709.3 867.4L1709.9 870.3L1710.5 870.9L1711.1 869.0L1711.7 871.9L1712.3 873.1L1712.9 875.4L1713.5 876.5L1714.1 877.0L1714.7 872.5L1715.3 869.4L1715.9 861.5L1716.5 856.9L1717.1 845.9L1717.7 840.3L1718.3 828.4L1718.9 816.1L1719.5 803.8L1720.1 804.5L1720.7 794.4L1721.3 788.8L1721.9 785.0L1722.5 781.4L1723.1 777.9L1723.7 770.3L1724.3 768.0L1724.9 762.9L1725.5 758.9L1726.1 758.0L1726.7 754.0L1727.3 749.6L1727.9 745.3L1728.5 745.1L1729.1 740.7L1729.7 740.8L1730.3 736.0L1730.9 731.2L1731.5 728.5L1732.1 719.1L1732.7 717.3L1733.3 714.3L1733.9 714.6L1734.5 713.9L1735.1 714.7L1735.7 714.0L1736.3 715.9L1736.9 715.4L1737.5 715.3L1738.1 715.2L1738.7 707.8L1739.3 699.2L1739.9 696.0L1740.5 695.2L1741.1 693.2L1741.7 693.5L1742.3 692.8L1742.9 690.4L1743.5 692.2L1744.1 688.7L1744.7 687.9L1745.3 687.5L1745.9 678.8L1746.5 674.1L1747.1 667.4L1747.7 665.1L1748.3 666.1L1748.9 669.4L1749.5 677.0L1750.1 681.3L1750.7 685.8L1751.3 686.3L1751.9 685.0L1752.5 684.6L1753.1 682.0L1753.7 680.4L1754.3 678.7L1754.9 673.4L1755.5 661.4L1756.1 653.9L1756.7 649.0L1757.3 646.4L1757.9 642.1L1758.5 641.9L1759.1 639.5L1759.7 637.5L1760.3 634.0L1760.9 632.5L1761.5 626.3L1762.1 616.8L1762.7 604.6L1763.3 591.3L1763.9 587.7L1764.5 585.4L1765.1 581.9L1765.7 583.4L1766.3 581.4L1766.9 578.9L1767.5 574.8L1768.1 571.4L1768.7 565.7L1769.3 560.4L1769.9 554.2L1770.5 550.3L1771.1 547.2L1771.7 541.4L1772.3 536.7L1772.9 529.7L1773.5 521.4L1774.1 513.4L1774.7 504.4L1775.3 498.2L1775.9 490.1L1776.5 484.4L1777.1 480.0L1777.7 475.0L1778.3 470.6L1778.9 465.9L1779.5 461.4L1780.1 455.4L1780.7 450.6L1781.3 444.9L1781.9 439.0L1782.5 432.9L1783.1 426.5L1783.7 419.2L1784.3 411.3L1784.9 402.3L1785.5 390.8L1786.1 377.7L1786.7 363.5L1787.3 346.9L1787.9 331.7L1788.5 320.5L1789.1 311.4L1789.7 303.2L1790.3 295.9L1790.9 288.9L1791.5 281.8L1792.1 274.7L1792.7 267.3L1793.3 260.4L1793.9 253.5L1794.5 247.7L1795.1 242.4L1795.7 237.8L1796.3 233.6L1796.9 229.7L1797.5 226.2L1798.1 222.6L1798.7 219.3L1799.3 215.9L1799.9 213.0L1800.5 210.1L1801.1 207.6L1801.7 205.2L1802.3 202.2L1802.9 199.9L1803.5 197.9L1804.1 195.5L1804.7 193.2L1805.3 191.0L1805.9 188.9L1806.5 186.6L1807.1 183.9L1807.7 181.9L1808.3 179.4L1808.9 177.3L1809.5 175.2L1810.1 173.2L1810.7 171.2L1811.3 169.7L1811.9 168.3L1812.5 167.1L1813.1 165.7L1813.7 164.6L1814.3 163.8L1814.9 162.9L1815.5 162.1L1816.1 161.3L1816.7 160.8L1817.3 160.3L1817.9 159.8L1818.5 159.1L1819.1 158.4L1819.7 157.7L1820.3 156.7L1820.9 155.2L1821.5 153.5L1822.1 151.6L1822.7 149.8L1823.3 148.1L1823.9 145.9L1824.5 143.7L1825.1 141.9L1825.7 140.2L1826.3 138.5L1826.9 137.1L1827.5 135.8L1828.1 135.0L1828.7 134.0L1829.3 133.1L1829.9 132.3L1830.5 131.8L1831.1 131.2L1831.7 130.4L1832.3 129.9L1832.9 129.2L1833.5 128.7L1834.1 128.2L1834.7 127.4L1835.3 127.0L1835.9 126.1L1836.5 125.8L1837.1 125.0L1837.7 124.2L1838.3 123.9L1838.9 123.4L1839.5 122.6L1840.1 122.1L1840.7 121.7L1841.3 121.5L1841.9 121.1L1842.5 120.6L1843.1 120.2L1843.7 119.6L1844.3 119.3L1844.9 119.1L1845.5 118.7L1846.1 118.2L1846.7 117.8L1847.3 117.7L1847.9 117.2L1848.5 117.2L1849.1 116.8L1849.7 116.5L1850.3 116.1L1850.9 116.0L1851.5 115.8L1852.1 115.8L1852.7 115.3L1853.3 114.9L1853.9 114.7L1854.5 114.7L1855.1 114.5L1855.7 114.2L1856.3 113.9L1856.9 113.8L1857.5 113.6L1858.1 113.5L1858.7 113.3L1859.3 113.3L1859.9 113.3L1860.5 113.1L1861.1 113.1L1861.7 112.7L1862.3 112.6L1862.9 112.6" stroke="#000"/>
</g>
<rect x="280.5" y="112.5" width="1583.0" height="1065.8" fill="none" stroke="#000" stroke-width="3.33" stroke-linejoin="miter"/>
<path d="M438.40,1178.3 v15.2 M629.99,1178.3 v15.2 M821.58,1178.3 v15.2 M1013.17,1178.3 v15.2 M1204.76,1178.3 v15.2 M1396.35,1178.3 v15.2 M1587.94,1178.3 v15.2 M1779.53,1178.3 v15.2 M280.5,762.20 h-15.2" stroke="#000" stroke-width="3.33"/>
<path d="M280.5,233.14 h-8.33 M280.5,842.62 h-8.33 M280.5,932.52 h-8.33 M280.5,1034.44 h-8.33 M280.5,1152.10 h-8.33" stroke="#000" stroke-width="2.5"/>
<g id="txt">
<g transform="translate(433.50,1267.00) rotate(-30)"><text x="-94.00" y="15" font-size="43.5" textLength="121.50" lengthAdjust="spacingAndGlyphs">12-20</text><text x="40.79" y="15" font-size="43.5" textLength="53.21" lengthAdjust="spacingAndGlyphs">09</text></g>
<g transform="translate(625.09,1267.00) rotate(-30)"><text x="-94.00" y="15" font-size="43.5" textLength="121.50" lengthAdjust="spacingAndGlyphs">12-20</text><text x="40.79" y="15" font-size="43.5" textLength="53.21" lengthAdjust="spacingAndGlyphs">10</text></g>
<g transform="translate(816.68,1267.00) rotate(-30)"><text x="-94.00" y="15" font-size="43.5" textLength="121.50" lengthAdjust="spacingAndGlyphs">12-20</text><text x="40.79" y="15" font-size="43.5" textLength="53.21" lengthAdjust="spacingAndGlyphs">11</text></g>
<g transform="translate(1008.27,1267.00) rotate(-30)"><text x="-94.00" y="15" font-size="43.5" textLength="121.50" lengthAdjust="spacingAndGlyphs">12-20</text><text x="40.79" y="15" font-size="43.5" textLength="53.21" lengthAdjust="spacingAndGlyphs">12</text></g>
<g transform="translate(1199.86,1267.00) rotate(-30)"><text x="-94.00" y="15" font-size="43.5" textLength="121.50" lengthAdjust="spacingAndGlyphs">12-20</text><text x="40.79" y="15" font-size="43.5" textLength="53.21" lengthAdjust="spacingAndGlyphs">13</text></g>
<g transform="translate(1391.45,1267.00) rotate(-30)"><text x="-94.00" y="15" font-size="43.5" textLength="121.50" lengthAdjust="spacingAndGlyphs">12-20</text><text x="40.79" y="15" font-size="43.5" textLength="53.21" lengthAdjust="spacingAndGlyphs">14</text></g>
<g transform="translate(1583.04,1267.00) rotate(-30)"><text x="-94.00" y="15" font-size="43.5" textLength="121.50" lengthAdjust="spacingAndGlyphs">12-20</text><text x="40.79" y="15" font-size="43.5" textLength="53.21" lengthAdjust="spacingAndGlyphs">15</text></g>
<g transform="translate(1774.63,1267.00) rotate(-30)"><text x="-94.00" y="15" font-size="43.5" textLength="121.50" lengthAdjust="spacingAndGlyphs">12-20</text><text x="40.79" y="15" font-size="43.5" textLength="53.21" lengthAdjust="spacingAndGlyphs">16</text></g>
<text x="109.8" y="248.6" font-size="43.5">2</text>
<text x="145.3" y="252.7" font-size="52">×</text>
<text x="186.9" y="248.6" font-size="43.5">1</text>
<text x="213.2" y="248.6" font-size="43.5">0</text>
<text x="240" y="232.5" font-size="30">8</text>
<text x="180.0" y="777.8" font-size="43.5">1</text>
<text x="205.3" y="777.8" font-size="43.5">0</text>
<text x="232.6" y="761.5" font-size="30">8</text>
<text x="109.8" y="1167.8" font-size="43.5">6</text>
<text x="145.3" y="1171.5" font-size="52">×</text>
<text x="186.9" y="1167.8" font-size="43.5">1</text>
<text x="213.2" y="1167.8" font-size="43.5">0</text>
<text x="239" y="1151.5" font-size="30">7</text>
<text x="1020" y="1386.5" font-size="43.5" textLength="101" lengthAdjust="spacingAndGlyphs">Time</text>
<text transform="translate(82.2,646.1) rotate(-90)" x="0" y="0" text-anchor="middle" font-size="43.5" textLength="89" lengthAdjust="spacingAndGlyphs">ADU</text>
<text x="379.60" y="86.9" font-size="50" textLength="120.12" lengthAdjust="spacingAndGlyphs">Peak</text>
<text x="515.56" y="86.9" font-size="50" textLength="107.54" lengthAdjust="spacingAndGlyphs">field</text>
<text x="638.95" y="86.9" font-size="50" textLength="132.07" lengthAdjust="spacingAndGlyphs">sums</text>
<text x="786.86" y="86.9" font-size="50" textLength="68.53" lengthAdjust="spacingAndGlyphs">for</text>
<text x="871.23" y="86.9" font-size="50" textLength="181.25" lengthAdjust="spacingAndGlyphs">NZ001J</text>
<text x="1052.49" y="86.9" font-size="50" textLength="24.92" lengthAdjust="spacingAndGlyphs">_</text>
<text x="1077.41" y="86.9" font-size="50" textLength="253.68" lengthAdjust="spacingAndGlyphs">20251220</text>
<text x="1331.09" y="86.9" font-size="50" textLength="24.92" lengthAdjust="spacingAndGlyphs">_</text>
<text x="1356.01" y="86.9" font-size="50" textLength="190.26" lengthAdjust="spacingAndGlyphs">081001</text>
<text x="1546.26" y="86.9" font-size="50" textLength="24.92" lengthAdjust="spacingAndGlyphs">_</text>
<text x="1571.18" y="86.9" font-size="50" textLength="190.26" lengthAdjust="spacingAndGlyphs">659477</text>
<rect x="299.7" y="1018.5" width="321.8" height="138.6" rx="8" ry="8" fill="#fff" fill-opacity="0.8" stroke="#d6d6d6" stroke-width="3.33"/>
<path d="M316,1054 H401" stroke="#ff0000" stroke-width="2.08"/>
<path d="M316,1116.8 H401" stroke="#000" stroke-width="2.08"/>
<text x="434" y="1069.4" font-size="43.5" textLength="97" lengthAdjust="spacingAndGlyphs">Peak</text>
<text x="434" y="1131.25" font-size="43.5" textLength="170" lengthAdjust="spacingAndGlyphs">Average</text>
</g>
</svg></body></html>
